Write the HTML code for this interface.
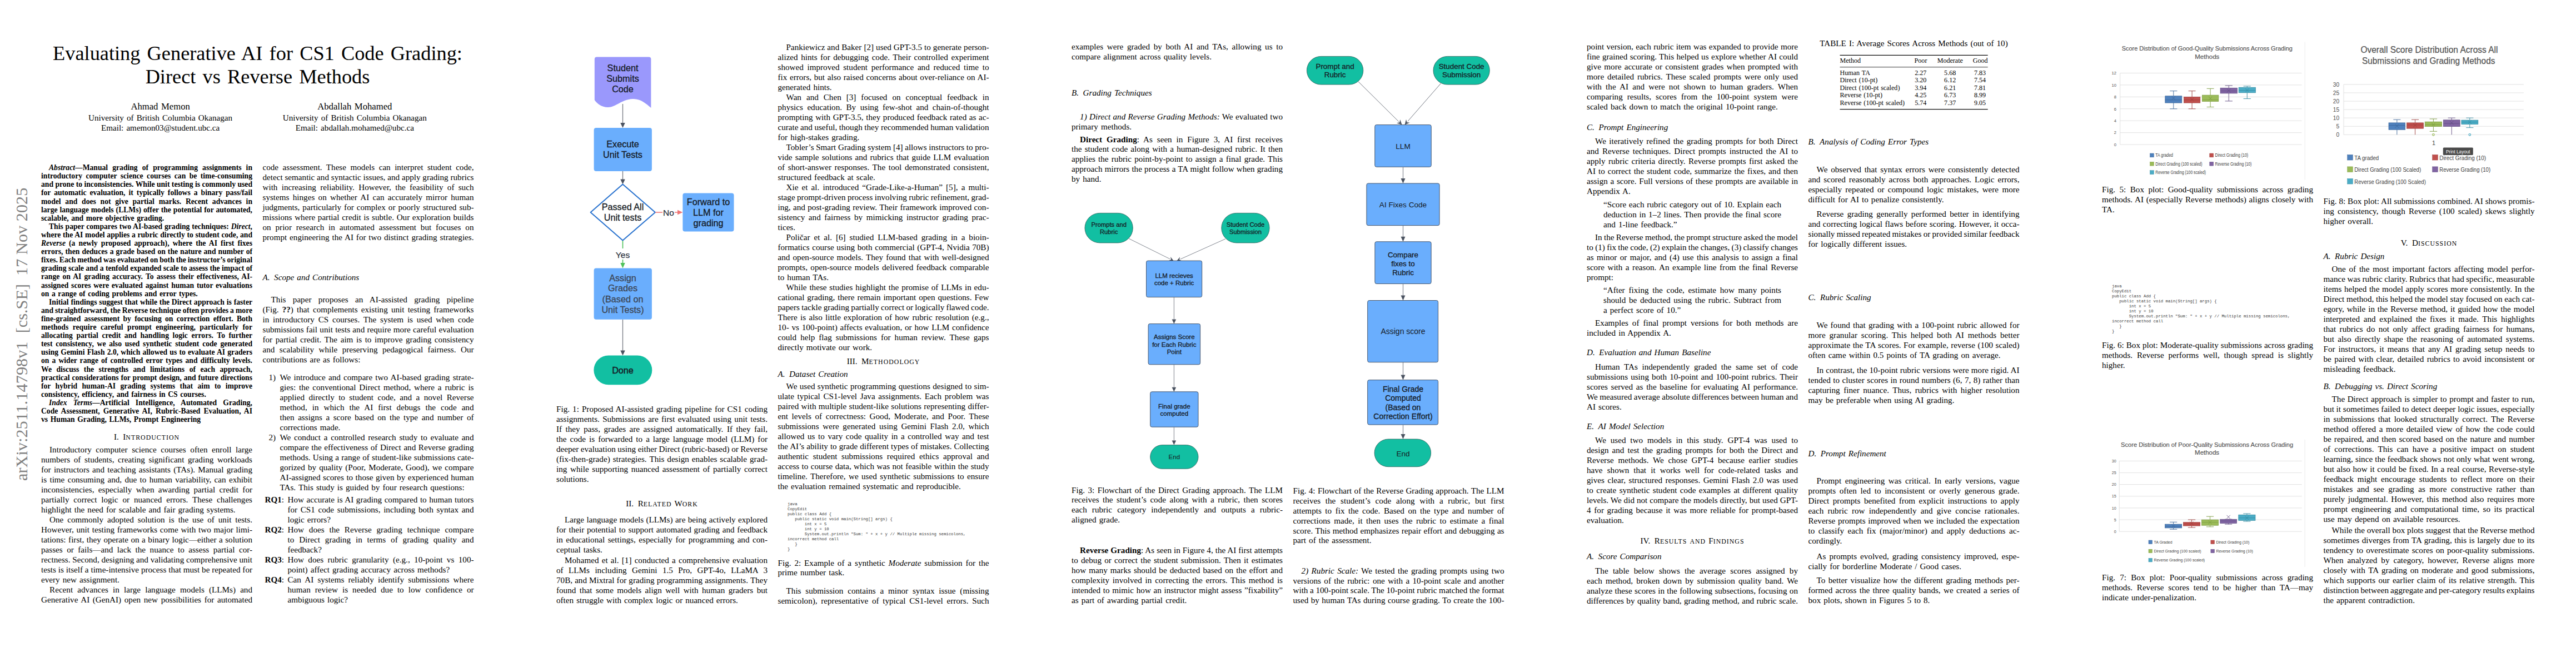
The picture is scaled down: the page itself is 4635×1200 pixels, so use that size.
<!DOCTYPE html>
<html><head><meta charset="utf-8"><style>
html,body{margin:0;padding:0;background:#fff;}
body{width:4635px;height:1200px;position:relative;overflow:hidden;}
.sr{position:absolute;font-family:"Liberation Serif",serif;color:#000;white-space:nowrap;word-spacing:0.085em;}
.bd{font-weight:bold;}
.j{text-align:justify;text-align-last:justify;white-space:normal;}
.j{word-spacing:0;}
.ctr{text-align:center;}
.h1{text-align:center;}
.sc{font-size:0.78em;letter-spacing:1.05px;}
.h2{font-style:italic;}
.stamp{font-size:30.3px;line-height:34px;color:#808080;transform-origin:0 0;transform:rotate(-90deg);left:22px;top:864.5px;word-spacing:0;}
.ss{position:absolute;font-family:"Liberation Sans",sans-serif;white-space:nowrap;text-align:center;}
.mono{position:absolute;font-family:"Liberation Mono",monospace;white-space:pre;color:#333;}
</style></head><body>
<div id="L0" class="sr bd j" style="font-size:13.65px;line-height:15.1px;top:294.14px;left:74.00px;width:380.00px;text-indent:14.00px;"><i>Abstract</i>—Manual grading of programming assignments in</div>
<div id="L1" class="sr bd j" style="font-size:13.65px;line-height:15.1px;top:309.24px;left:74.00px;width:380.00px;">introductory computer science courses can be time-consuming</div>
<div id="L2" class="sr bd j" style="font-size:13.65px;line-height:15.1px;top:324.34px;left:74.00px;width:380.00px;word-spacing:-0.06px;">and prone to inconsistencies. While unit testing is commonly used</div>
<div id="L3" class="sr bd j" style="font-size:13.65px;line-height:15.1px;top:339.44px;left:74.00px;width:380.00px;">for automatic evaluation, it typically follows a binary pass/fail</div>
<div id="L4" class="sr bd j" style="font-size:13.65px;line-height:15.1px;top:354.54px;left:74.00px;width:380.00px;">model and does not give partial marks. Recent advances in</div>
<div id="L5" class="sr bd j" style="font-size:13.65px;line-height:15.1px;top:369.64px;left:74.00px;width:380.00px;">large language models (LLMs) offer the potential for automated,</div>
<div id="L6" class="sr bd" style="font-size:13.65px;line-height:15.1px;top:384.74px;left:74.00px;width:380.00px;">scalable, and more objective grading.</div>
<div id="L7" class="sr bd j" style="font-size:13.65px;line-height:15.1px;top:399.84px;left:74.00px;width:380.00px;text-indent:14.00px;">This paper compares two AI-based grading techniques: <i>Direct</i>,</div>
<div id="L8" class="sr bd j" style="font-size:13.65px;line-height:15.1px;top:414.94px;left:74.00px;width:380.00px;">where the AI model applies a rubric directly to student code, and</div>
<div id="L9" class="sr bd j" style="font-size:13.65px;line-height:15.1px;top:430.04px;left:74.00px;width:380.00px;"><i>Reverse</i> (a newly proposed approach), where the AI first fixes</div>
<div id="L10" class="sr bd j" style="font-size:13.65px;line-height:15.1px;top:445.14px;left:74.00px;width:380.00px;">errors, then deduces a grade based on the nature and number of</div>
<div id="L11" class="sr bd j" style="font-size:13.65px;line-height:15.1px;top:460.24px;left:74.00px;width:380.00px;word-spacing:-0.59px;">fixes. Each method was evaluated on both the instructor’s original</div>
<div id="L12" class="sr bd j" style="font-size:13.65px;line-height:15.1px;top:475.34px;left:74.00px;width:380.00px;word-spacing:-0.06px;">grading scale and a tenfold expanded scale to assess the impact of</div>
<div id="L13" class="sr bd j" style="font-size:13.65px;line-height:15.1px;top:490.44px;left:74.00px;width:380.00px;">range on AI grading accuracy. To assess their effectiveness, AI-</div>
<div id="L14" class="sr bd j" style="font-size:13.65px;line-height:15.1px;top:505.54px;left:74.00px;width:380.00px;">assigned scores were evaluated against human tutor evaluations</div>
<div id="L15" class="sr bd" style="font-size:13.65px;line-height:15.1px;top:520.64px;left:74.00px;width:380.00px;">on a range of coding problems and error types.</div>
<div id="L16" class="sr bd j" style="font-size:13.65px;line-height:15.1px;top:535.74px;left:74.00px;width:380.00px;text-indent:14.00px;">Initial findings suggest that while the Direct approach is faster</div>
<div id="L17" class="sr bd j" style="font-size:13.65px;line-height:15.1px;top:550.84px;left:74.00px;width:380.00px;word-spacing:-0.49px;">and straightforward, the Reverse technique often provides a more</div>
<div id="L18" class="sr bd j" style="font-size:13.65px;line-height:15.1px;top:565.94px;left:74.00px;width:380.00px;">fine-grained assessment by focusing on correction effort. Both</div>
<div id="L19" class="sr bd j" style="font-size:13.65px;line-height:15.1px;top:581.04px;left:74.00px;width:380.00px;">methods require careful prompt engineering, particularly for</div>
<div id="L20" class="sr bd j" style="font-size:13.65px;line-height:15.1px;top:596.14px;left:74.00px;width:380.00px;">allocating partial credit and handling logic errors. To further</div>
<div id="L21" class="sr bd j" style="font-size:13.65px;line-height:15.1px;top:611.24px;left:74.00px;width:380.00px;">test consistency, we also used synthetic student code generated</div>
<div id="L22" class="sr bd j" style="font-size:13.65px;line-height:15.1px;top:626.34px;left:74.00px;width:380.00px;">using Gemini Flash 2.0, which allowed us to evaluate AI graders</div>
<div id="L23" class="sr bd j" style="font-size:13.65px;line-height:15.1px;top:641.44px;left:74.00px;width:380.00px;">on a wider range of controlled error types and difficulty levels.</div>
<div id="L24" class="sr bd j" style="font-size:13.65px;line-height:15.1px;top:656.54px;left:74.00px;width:380.00px;">We discuss the strengths and limitations of each approach,</div>
<div id="L25" class="sr bd j" style="font-size:13.65px;line-height:15.1px;top:671.64px;left:74.00px;width:380.00px;">practical considerations for prompt design, and future directions</div>
<div id="L26" class="sr bd j" style="font-size:13.65px;line-height:15.1px;top:686.74px;left:74.00px;width:380.00px;">for hybrid human-AI grading systems that aim to improve</div>
<div id="L27" class="sr bd" style="font-size:13.65px;line-height:15.1px;top:701.84px;left:74.00px;width:380.00px;">consistency, efficiency, and fairness in CS courses.</div>
<div id="L28" class="sr bd j" style="font-size:13.65px;line-height:15.1px;top:716.94px;left:74.00px;width:380.00px;text-indent:14.00px;"><i>Index Terms</i>—Artificial Intelligence, Automated Grading,</div>
<div id="L29" class="sr bd j" style="font-size:13.65px;line-height:15.1px;top:732.04px;left:74.00px;width:380.00px;">Code Assessment, Generative AI, Rubric-Based Evaluation, AI</div>
<div id="L30" class="sr bd" style="font-size:13.65px;line-height:15.1px;top:747.14px;left:74.00px;width:380.00px;">vs Human Grading, LLMs, Prompt Engineering</div>
<div class="sr h1" style="font-size:15.15px;line-height:18.0px;top:777.29px;left:74.0px;width:380.0px">I.&ensp;I<span class="sc">NTRODUCTION</span></div>
<div id="L32" class="sr j" style="font-size:15.15px;line-height:18.0px;top:799.89px;left:74.00px;width:380.00px;text-indent:15.07px;">Introductory computer science courses often enroll large</div>
<div id="L33" class="sr j" style="font-size:15.15px;line-height:18.0px;top:817.89px;left:74.00px;width:380.00px;">numbers of students, creating significant grading workloads</div>
<div id="L34" class="sr j" style="font-size:15.15px;line-height:18.0px;top:835.89px;left:74.00px;width:380.00px;">for instructors and teaching assistants (TAs). Manual grading</div>
<div id="L35" class="sr j" style="font-size:15.15px;line-height:18.0px;top:853.89px;left:74.00px;width:380.00px;">is time consuming and, due to human variability, can exhibit</div>
<div id="L36" class="sr j" style="font-size:15.15px;line-height:18.0px;top:871.89px;left:74.00px;width:380.00px;">inconsistencies, especially when awarding partial credit for</div>
<div id="L37" class="sr j" style="font-size:15.15px;line-height:18.0px;top:889.89px;left:74.00px;width:380.00px;">partially correct logic or nuanced errors. These challenges</div>
<div id="L38" class="sr" style="font-size:15.15px;line-height:18.0px;top:907.89px;left:74.00px;width:380.00px;">highlight the need for scalable and fair grading systems.</div>
<div id="L39" class="sr j" style="font-size:15.15px;line-height:18.0px;top:925.89px;left:74.00px;width:380.00px;text-indent:15.07px;">One commonly adopted solution is the use of unit tests.</div>
<div id="L40" class="sr j" style="font-size:15.15px;line-height:18.0px;top:943.89px;left:74.00px;width:380.00px;">However, unit testing frameworks come with two major limi-</div>
<div id="L41" class="sr j" style="font-size:15.15px;line-height:18.0px;top:961.89px;left:74.00px;width:380.00px;">tations: first, they operate on a binary logic—either a solution</div>
<div id="L42" class="sr j" style="font-size:15.15px;line-height:18.0px;top:979.89px;left:74.00px;width:380.00px;">passes or fails—and lack the nuance to assess partial cor-</div>
<div id="L43" class="sr j" style="font-size:15.15px;line-height:18.0px;top:997.89px;left:74.00px;width:380.00px;word-spacing:-0.12px;">rectness. Second, designing and validating comprehensive unit</div>
<div id="L44" class="sr j" style="font-size:15.15px;line-height:18.0px;top:1015.89px;left:74.00px;width:380.00px;">tests is itself a time-intensive process that must be repeated for</div>
<div id="L45" class="sr" style="font-size:15.15px;line-height:18.0px;top:1033.89px;left:74.00px;width:380.00px;">every new assignment.</div>
<div id="L46" class="sr j" style="font-size:15.15px;line-height:18.0px;top:1051.89px;left:74.00px;width:380.00px;text-indent:15.07px;">Recent advances in large language models (LLMs) and</div>
<div id="L47" class="sr j" style="font-size:15.15px;line-height:18.0px;top:1069.89px;left:74.00px;width:380.00px;">Generative AI (GenAI) open new possibilities for automated</div>
<div id="L48" class="sr j" style="font-size:15.15px;line-height:18.0px;top:291.99px;left:472.50px;width:380.00px;">code assessment. These models can interpret student code,</div>
<div id="L49" class="sr j" style="font-size:15.15px;line-height:18.0px;top:309.99px;left:472.50px;width:380.00px;">detect semantic and syntactic issues, and apply grading rubrics</div>
<div id="L50" class="sr j" style="font-size:15.15px;line-height:18.0px;top:327.99px;left:472.50px;width:380.00px;">with increasing reliability. However, the feasibility of such</div>
<div id="L51" class="sr j" style="font-size:15.15px;line-height:18.0px;top:345.99px;left:472.50px;width:380.00px;">systems hinges on whether AI can accurately mirror human</div>
<div id="L52" class="sr j" style="font-size:15.15px;line-height:18.0px;top:363.99px;left:472.50px;width:380.00px;">judgments, particularly for complex or poorly structured sub-</div>
<div id="L53" class="sr j" style="font-size:15.15px;line-height:18.0px;top:381.99px;left:472.50px;width:380.00px;">missions where partial credit is subtle. Our exploration builds</div>
<div id="L54" class="sr j" style="font-size:15.15px;line-height:18.0px;top:399.99px;left:472.50px;width:380.00px;">on prior research in automated assessment but focuses on</div>
<div id="L55" class="sr j" style="font-size:15.15px;line-height:18.0px;top:417.99px;left:472.50px;width:380.00px;">prompt engineering the AI for two distinct grading strategies.</div>
<div class="sr h2" style="font-size:15.15px;line-height:18.0px;top:490.09px;left:472.5px;width:380.0px">A.&ensp;Scope and Contributions</div>
<div id="L57" class="sr j" style="font-size:15.15px;line-height:18.0px;top:529.69px;left:472.50px;width:380.00px;text-indent:15.07px;">This paper proposes an AI-assisted grading pipeline</div>
<div id="L58" class="sr j" style="font-size:15.15px;line-height:18.0px;top:547.69px;left:472.50px;width:380.00px;">(Fig. <b>??</b>) that complements existing unit testing frameworks</div>
<div id="L59" class="sr j" style="font-size:15.15px;line-height:18.0px;top:565.69px;left:472.50px;width:380.00px;">in introductory CS courses. The system is used when code</div>
<div id="L60" class="sr j" style="font-size:15.15px;line-height:18.0px;top:583.69px;left:472.50px;width:380.00px;">submissions fail unit tests and require more careful evaluation</div>
<div id="L61" class="sr j" style="font-size:15.15px;line-height:18.0px;top:601.69px;left:472.50px;width:380.00px;">for partial credit. The aim is to improve grading consistency</div>
<div id="L62" class="sr j" style="font-size:15.15px;line-height:18.0px;top:619.69px;left:472.50px;width:380.00px;">and scalability while preserving pedagogical fairness. Our</div>
<div id="L63" class="sr" style="font-size:15.15px;line-height:18.0px;top:637.69px;left:472.50px;width:380.00px;">contributions are as follows:</div>
<div class="sr" style="font-size:15.15px;line-height:18.0px;top:669.69px;left:483.5px;width:80px">1)</div>
<div id="L65" class="sr j" style="font-size:15.15px;line-height:18.0px;top:669.69px;left:503.50px;width:349.00px;">We introduce and compare two AI-based grading strate-</div>
<div id="L66" class="sr j" style="font-size:15.15px;line-height:18.0px;top:687.69px;left:503.50px;width:349.00px;">gies: the conventional Direct method, where a rubric is</div>
<div id="L67" class="sr j" style="font-size:15.15px;line-height:18.0px;top:705.69px;left:503.50px;width:349.00px;">applied directly to student code, and a novel Reverse</div>
<div id="L68" class="sr j" style="font-size:15.15px;line-height:18.0px;top:723.69px;left:503.50px;width:349.00px;">method, in which the AI first debugs the code and</div>
<div id="L69" class="sr j" style="font-size:15.15px;line-height:18.0px;top:741.69px;left:503.50px;width:349.00px;">then assigns a score based on the type and number of</div>
<div id="L70" class="sr" style="font-size:15.15px;line-height:18.0px;top:759.69px;left:503.50px;width:349.00px;">corrections made.</div>
<div class="sr" style="font-size:15.15px;line-height:18.0px;top:777.69px;left:483.5px;width:80px">2)</div>
<div id="L72" class="sr j" style="font-size:15.15px;line-height:18.0px;top:777.69px;left:503.50px;width:349.00px;">We conduct a controlled research study to evaluate and</div>
<div id="L73" class="sr j" style="font-size:15.15px;line-height:18.0px;top:795.69px;left:503.50px;width:349.00px;">compare the effectiveness of Direct and Reverse grading</div>
<div id="L74" class="sr j" style="font-size:15.15px;line-height:18.0px;top:813.69px;left:503.50px;width:349.00px;">methods. Using a range of student-like submissions cate-</div>
<div id="L75" class="sr j" style="font-size:15.15px;line-height:18.0px;top:831.69px;left:503.50px;width:349.00px;">gorized by quality (Poor, Moderate, Good), we compare</div>
<div id="L76" class="sr j" style="font-size:15.15px;line-height:18.0px;top:849.69px;left:503.50px;width:349.00px;">AI-assigned scores to those given by experienced human</div>
<div id="L77" class="sr" style="font-size:15.15px;line-height:18.0px;top:867.69px;left:503.50px;width:349.00px;">TAs. This study is guided by four research questions:</div>
<div class="sr" style="font-size:15.15px;line-height:18.0px;top:890.19px;left:476.5px;width:80px"><b>RQ1</b>:</div>
<div id="L79" class="sr j" style="font-size:15.15px;line-height:18.0px;top:890.19px;left:517.50px;width:335.00px;">How accurate is AI grading compared to human tutors</div>
<div id="L80" class="sr j" style="font-size:15.15px;line-height:18.0px;top:908.19px;left:517.50px;width:335.00px;">for CS1 code submissions, including both syntax and</div>
<div id="L81" class="sr" style="font-size:15.15px;line-height:18.0px;top:926.19px;left:517.50px;width:335.00px;">logic errors?</div>
<div class="sr" style="font-size:15.15px;line-height:18.0px;top:944.19px;left:476.5px;width:80px"><b>RQ2</b>:</div>
<div id="L83" class="sr j" style="font-size:15.15px;line-height:18.0px;top:944.19px;left:517.50px;width:335.00px;">How does the Reverse grading technique compare</div>
<div id="L84" class="sr j" style="font-size:15.15px;line-height:18.0px;top:962.19px;left:517.50px;width:335.00px;">to Direct grading in terms of grading quality and</div>
<div id="L85" class="sr" style="font-size:15.15px;line-height:18.0px;top:980.19px;left:517.50px;width:335.00px;">feedback?</div>
<div class="sr" style="font-size:15.15px;line-height:18.0px;top:998.19px;left:476.5px;width:80px"><b>RQ3</b>:</div>
<div id="L87" class="sr j" style="font-size:15.15px;line-height:18.0px;top:998.19px;left:517.50px;width:335.00px;">How does rubric granularity (e.g., 10-point vs 100-</div>
<div id="L88" class="sr" style="font-size:15.15px;line-height:18.0px;top:1016.19px;left:517.50px;width:335.00px;">point) affect grading accuracy across methods?</div>
<div class="sr" style="font-size:15.15px;line-height:18.0px;top:1034.19px;left:476.5px;width:80px"><b>RQ4</b>:</div>
<div id="L90" class="sr j" style="font-size:15.15px;line-height:18.0px;top:1034.19px;left:517.50px;width:335.00px;">Can AI systems reliably identify submissions where</div>
<div id="L91" class="sr j" style="font-size:15.15px;line-height:18.0px;top:1052.19px;left:517.50px;width:335.00px;">human review is needed due to low confidence or</div>
<div id="L92" class="sr" style="font-size:15.15px;line-height:18.0px;top:1070.19px;left:517.50px;width:335.00px;">ambiguous logic?</div>
<div id="L93" class="sr j" style="font-size:15.15px;line-height:18.0px;top:726.59px;left:1001.00px;width:380.00px;">Fig. 1: Proposed AI-assisted grading pipeline for CS1 coding</div>
<div id="L94" class="sr j" style="font-size:15.15px;line-height:18.0px;top:744.59px;left:1001.00px;width:380.00px;">assignments. Submissions are first evaluated using unit tests.</div>
<div id="L95" class="sr j" style="font-size:15.15px;line-height:18.0px;top:762.59px;left:1001.00px;width:380.00px;">If they pass, grades are assigned automatically. If they fail,</div>
<div id="L96" class="sr j" style="font-size:15.15px;line-height:18.0px;top:780.59px;left:1001.00px;width:380.00px;">the code is forwarded to a large language model (LLM) for</div>
<div id="L97" class="sr j" style="font-size:15.15px;line-height:18.0px;top:798.59px;left:1001.00px;width:380.00px;word-spacing:-0.39px;">deeper evaluation using either Direct (rubric-based) or Reverse</div>
<div id="L98" class="sr j" style="font-size:15.15px;line-height:18.0px;top:816.59px;left:1001.00px;width:380.00px;">(fix-then-grade) strategies. This design enables scalable grad-</div>
<div id="L99" class="sr j" style="font-size:15.15px;line-height:18.0px;top:834.59px;left:1001.00px;width:380.00px;">ing while supporting nuanced assessment of partially correct</div>
<div id="L100" class="sr" style="font-size:15.15px;line-height:18.0px;top:852.59px;left:1001.00px;width:380.00px;">solutions.</div>
<div class="sr h1" style="font-size:15.15px;line-height:18.0px;top:896.69px;left:1001.0px;width:380.0px">II.&ensp;R<span class="sc">ELATED</span> W<span class="sc">ORK</span></div>
<div id="L102" class="sr j" style="font-size:15.15px;line-height:18.0px;top:926.19px;left:1001.00px;width:380.00px;text-indent:15.07px;">Large language models (LLMs) are being actively explored</div>
<div id="L103" class="sr j" style="font-size:15.15px;line-height:18.0px;top:944.19px;left:1001.00px;width:380.00px;">for their potential to support automated grading and feedback</div>
<div id="L104" class="sr j" style="font-size:15.15px;line-height:18.0px;top:962.19px;left:1001.00px;width:380.00px;">in educational settings, especially for programming and con-</div>
<div id="L105" class="sr" style="font-size:15.15px;line-height:18.0px;top:980.19px;left:1001.00px;width:380.00px;">ceptual tasks.</div>
<div id="L106" class="sr j" style="font-size:15.15px;line-height:18.0px;top:999.09px;left:1001.00px;width:380.00px;text-indent:15.07px;">Mohamed et al. [1] conducted a comprehensive evaluation</div>
<div id="L107" class="sr j" style="font-size:15.15px;line-height:18.0px;top:1017.09px;left:1001.00px;width:380.00px;">of LLMs including Gemini 1.5 Pro, GPT-4o, LLaMA 3</div>
<div id="L108" class="sr j" style="font-size:15.15px;line-height:18.0px;top:1035.09px;left:1001.00px;width:380.00px;">70B, and Mixtral for grading programming assignments. They</div>
<div id="L109" class="sr j" style="font-size:15.15px;line-height:18.0px;top:1053.09px;left:1001.00px;width:380.00px;">found that some models align well with human graders but</div>
<div id="L110" class="sr" style="font-size:15.15px;line-height:18.0px;top:1071.09px;left:1001.00px;width:380.00px;">often struggle with complex logic or nuanced errors.</div>
<div id="L111" class="sr j" style="font-size:15.15px;line-height:18.0px;top:75.79px;left:1399.50px;width:380.00px;text-indent:15.07px;">Pankiewicz and Baker [2] used GPT-3.5 to generate person-</div>
<div id="L112" class="sr j" style="font-size:15.15px;line-height:18.0px;top:93.79px;left:1399.50px;width:380.00px;">alized hints for debugging code. Their controlled experiment</div>
<div id="L113" class="sr j" style="font-size:15.15px;line-height:18.0px;top:111.79px;left:1399.50px;width:380.00px;">showed improved student performance and reduced time to</div>
<div id="L114" class="sr j" style="font-size:15.15px;line-height:18.0px;top:129.79px;left:1399.50px;width:380.00px;">fix errors, but also raised concerns about over-reliance on AI-</div>
<div id="L115" class="sr" style="font-size:15.15px;line-height:18.0px;top:147.79px;left:1399.50px;width:380.00px;">generated hints.</div>
<div id="L116" class="sr j" style="font-size:15.15px;line-height:18.0px;top:165.79px;left:1399.50px;width:380.00px;text-indent:15.07px;">Wan and Chen [3] focused on conceptual feedback in</div>
<div id="L117" class="sr j" style="font-size:15.15px;line-height:18.0px;top:183.79px;left:1399.50px;width:380.00px;">physics education. By using few-shot and chain-of-thought</div>
<div id="L118" class="sr j" style="font-size:15.15px;line-height:18.0px;top:201.79px;left:1399.50px;width:380.00px;">prompting with GPT-3.5, they produced feedback rated as ac-</div>
<div id="L119" class="sr j" style="font-size:15.15px;line-height:18.0px;top:219.79px;left:1399.50px;width:380.00px;word-spacing:-0.34px;">curate and useful, though they recommended human validation</div>
<div id="L120" class="sr" style="font-size:15.15px;line-height:18.0px;top:237.79px;left:1399.50px;width:380.00px;">for high-stakes grading.</div>
<div id="L121" class="sr j" style="font-size:15.15px;line-height:18.0px;top:255.79px;left:1399.50px;width:380.00px;text-indent:15.07px;word-spacing:-0.23px;">Tobler’s Smart Grading system [4] allows instructors to pro-</div>
<div id="L122" class="sr j" style="font-size:15.15px;line-height:18.0px;top:273.79px;left:1399.50px;width:380.00px;">vide sample solutions and rubrics that guide LLM evaluation</div>
<div id="L123" class="sr j" style="font-size:15.15px;line-height:18.0px;top:291.79px;left:1399.50px;width:380.00px;">of short-answer responses. The tool demonstrated consistent,</div>
<div id="L124" class="sr" style="font-size:15.15px;line-height:18.0px;top:309.79px;left:1399.50px;width:380.00px;">structured feedback at scale.</div>
<div id="L125" class="sr j" style="font-size:15.15px;line-height:18.0px;top:327.79px;left:1399.50px;width:380.00px;text-indent:15.07px;">Xie et al. introduced “Grade-Like-a-Human” [5], a multi-</div>
<div id="L126" class="sr j" style="font-size:15.15px;line-height:18.0px;top:345.79px;left:1399.50px;width:380.00px;word-spacing:-0.46px;">stage prompt-driven process involving rubric refinement, grad-</div>
<div id="L127" class="sr j" style="font-size:15.15px;line-height:18.0px;top:363.79px;left:1399.50px;width:380.00px;">ing, and post-grading review. Their framework improved con-</div>
<div id="L128" class="sr j" style="font-size:15.15px;line-height:18.0px;top:381.79px;left:1399.50px;width:380.00px;">sistency and fairness by mimicking instructor grading prac-</div>
<div id="L129" class="sr" style="font-size:15.15px;line-height:18.0px;top:399.79px;left:1399.50px;width:380.00px;">tices.</div>
<div id="L130" class="sr j" style="font-size:15.15px;line-height:18.0px;top:417.79px;left:1399.50px;width:380.00px;text-indent:15.07px;">Poličar et al. [6] studied LLM-based grading in a bioin-</div>
<div id="L131" class="sr j" style="font-size:15.15px;line-height:18.0px;top:435.79px;left:1399.50px;width:380.00px;">formatics course using both commercial (GPT-4, Nvidia 70B)</div>
<div id="L132" class="sr j" style="font-size:15.15px;line-height:18.0px;top:453.79px;left:1399.50px;width:380.00px;">and open-source models. They found that with well-designed</div>
<div id="L133" class="sr j" style="font-size:15.15px;line-height:18.0px;top:471.79px;left:1399.50px;width:380.00px;">prompts, open-source models delivered feedback comparable</div>
<div id="L134" class="sr" style="font-size:15.15px;line-height:18.0px;top:489.79px;left:1399.50px;width:380.00px;">to human TAs.</div>
<div id="L135" class="sr j" style="font-size:15.15px;line-height:18.0px;top:507.79px;left:1399.50px;width:380.00px;text-indent:15.07px;">While these studies highlight the promise of LLMs in edu-</div>
<div id="L136" class="sr j" style="font-size:15.15px;line-height:18.0px;top:525.79px;left:1399.50px;width:380.00px;">cational grading, there remain important open questions. Few</div>
<div id="L137" class="sr j" style="font-size:15.15px;line-height:18.0px;top:543.79px;left:1399.50px;width:380.00px;word-spacing:-0.55px;">papers tackle grading partially correct or logically flawed code.</div>
<div id="L138" class="sr j" style="font-size:15.15px;line-height:18.0px;top:561.79px;left:1399.50px;width:380.00px;">There is also little exploration of how rubric resolution (e.g.,</div>
<div id="L139" class="sr j" style="font-size:15.15px;line-height:18.0px;top:579.79px;left:1399.50px;width:380.00px;">10- vs 100-point) affects evaluation, or how LLM confidence</div>
<div id="L140" class="sr j" style="font-size:15.15px;line-height:18.0px;top:597.79px;left:1399.50px;width:380.00px;">could help flag submissions for human review. These gaps</div>
<div id="L141" class="sr" style="font-size:15.15px;line-height:18.0px;top:615.79px;left:1399.50px;width:380.00px;">directly motivate our work.</div>
<div class="sr h1" style="font-size:15.15px;line-height:18.0px;top:641.29px;left:1399.5px;width:380.0px">III.&ensp;M<span class="sc">ETHODOLOGY</span></div>
<div class="sr h2" style="font-size:15.15px;line-height:18.0px;top:664.09px;left:1399.5px;width:380.0px">A.&ensp;Dataset Creation</div>
<div id="L144" class="sr j" style="font-size:15.15px;line-height:18.0px;top:685.99px;left:1399.50px;width:380.00px;text-indent:15.07px;">We used synthetic programming questions designed to sim-</div>
<div id="L145" class="sr j" style="font-size:15.15px;line-height:18.0px;top:703.99px;left:1399.50px;width:380.00px;">ulate typical CS1-level Java assignments. Each problem was</div>
<div id="L146" class="sr j" style="font-size:15.15px;line-height:18.0px;top:721.99px;left:1399.50px;width:380.00px;">paired with multiple student-like solutions representing differ-</div>
<div id="L147" class="sr j" style="font-size:15.15px;line-height:18.0px;top:739.99px;left:1399.50px;width:380.00px;">ent levels of correctness: Good, Moderate, and Poor. These</div>
<div id="L148" class="sr j" style="font-size:15.15px;line-height:18.0px;top:757.99px;left:1399.50px;width:380.00px;">submissions were generated using Gemini Flash 2.0, which</div>
<div id="L149" class="sr j" style="font-size:15.15px;line-height:18.0px;top:775.99px;left:1399.50px;width:380.00px;">allowed us to vary code quality in a controlled way and test</div>
<div id="L150" class="sr j" style="font-size:15.15px;line-height:18.0px;top:793.99px;left:1399.50px;width:380.00px;">the AI’s ability to grade different types of mistakes. Collecting</div>
<div id="L151" class="sr j" style="font-size:15.15px;line-height:18.0px;top:811.99px;left:1399.50px;width:380.00px;">authentic student submissions required ethics approval and</div>
<div id="L152" class="sr j" style="font-size:15.15px;line-height:18.0px;top:829.99px;left:1399.50px;width:380.00px;">access to course data, which was not feasible within the study</div>
<div id="L153" class="sr j" style="font-size:15.15px;line-height:18.0px;top:847.99px;left:1399.50px;width:380.00px;">timeline. Therefore, we used synthetic submissions to ensure</div>
<div id="L154" class="sr" style="font-size:15.15px;line-height:18.0px;top:865.99px;left:1399.50px;width:380.00px;">the evaluation remained systematic and reproducible.</div>
<div id="L155" class="sr j" style="font-size:15.15px;line-height:17.6px;top:1003.89px;left:1399.50px;width:380.00px;">Fig. 2: Example of a synthetic <i>Moderate</i> submission for the</div>
<div id="L156" class="sr" style="font-size:15.15px;line-height:17.6px;top:1021.49px;left:1399.50px;width:380.00px;">prime number task.</div>
<div id="L157" class="sr j" style="font-size:15.15px;line-height:18.0px;top:1054.09px;left:1399.50px;width:380.00px;text-indent:15.07px;">This submission contains a minor syntax issue (missing</div>
<div id="L158" class="sr j" style="font-size:15.15px;line-height:18.0px;top:1072.09px;left:1399.50px;width:380.00px;">semicolon), representative of typical CS1-level errors. Such</div>
<div id="L159" class="sr j" style="font-size:15.15px;line-height:18.0px;top:75.49px;left:1928.00px;width:380.00px;">examples were graded by both AI and TAs, allowing us to</div>
<div id="L160" class="sr" style="font-size:15.15px;line-height:18.0px;top:93.49px;left:1928.00px;width:380.00px;">compare alignment across quality levels.</div>
<div class="sr h2" style="font-size:15.15px;line-height:18.0px;top:157.99px;left:1928.0px;width:380.0px">B.&ensp;Grading Techniques</div>
<div id="L162" class="sr j" style="font-size:15.15px;line-height:18.0px;top:201.19px;left:1928.00px;width:380.00px;text-indent:15.07px;"><i>1) Direct and Reverse Grading Methods:</i> We evaluated two</div>
<div id="L163" class="sr" style="font-size:15.15px;line-height:18.0px;top:219.19px;left:1928.00px;width:380.00px;">primary methods.</div>
<div id="L164" class="sr j" style="font-size:15.15px;line-height:17.75px;top:241.61px;left:1928.00px;width:380.00px;text-indent:15.07px;"><b>Direct Grading</b>: As seen in Figure 3, AI first receives</div>
<div id="L165" class="sr j" style="font-size:15.15px;line-height:17.75px;top:259.36px;left:1928.00px;width:380.00px;">the student code along with a human-designed rubric. It then</div>
<div id="L166" class="sr j" style="font-size:15.15px;line-height:17.75px;top:277.11px;left:1928.00px;width:380.00px;">applies the rubric point-by-point to assign a final grade. This</div>
<div id="L167" class="sr j" style="font-size:15.15px;line-height:17.75px;top:294.86px;left:1928.00px;width:380.00px;">approach mirrors the process a TA might follow when grading</div>
<div id="L168" class="sr" style="font-size:15.15px;line-height:17.75px;top:312.61px;left:1928.00px;width:380.00px;">by hand.</div>
<div id="L169" class="sr j" style="font-size:15.15px;line-height:17.9px;top:872.54px;left:1928.00px;width:380.00px;">Fig. 3: Flowchart of the Direct Grading approach. The LLM</div>
<div id="L170" class="sr j" style="font-size:15.15px;line-height:17.9px;top:890.44px;left:1928.00px;width:380.00px;">receives the student’s code along with a rubric, then scores</div>
<div id="L171" class="sr j" style="font-size:15.15px;line-height:17.9px;top:908.34px;left:1928.00px;width:380.00px;">each rubric category independently and outputs a rubric-</div>
<div id="L172" class="sr" style="font-size:15.15px;line-height:17.9px;top:926.24px;left:1928.00px;width:380.00px;">aligned grade.</div>
<div id="L173" class="sr j" style="font-size:15.15px;line-height:17.85px;top:981.36px;left:1928.00px;width:380.00px;text-indent:15.07px;"><b>Reverse Grading</b>: As seen in Figure 4, the AI first attempts</div>
<div id="L174" class="sr j" style="font-size:15.15px;line-height:17.85px;top:999.21px;left:1928.00px;width:380.00px;">to debug or correct the student submission. Then it estimates</div>
<div id="L175" class="sr j" style="font-size:15.15px;line-height:17.85px;top:1017.06px;left:1928.00px;width:380.00px;">how many marks should be deducted based on the effort and</div>
<div id="L176" class="sr j" style="font-size:15.15px;line-height:17.85px;top:1034.91px;left:1928.00px;width:380.00px;">complexity involved in correcting the errors. This method is</div>
<div id="L177" class="sr j" style="font-size:15.15px;line-height:17.85px;top:1052.76px;left:1928.00px;width:380.00px;">intended to mimic how an instructor might assess ”fixability”</div>
<div id="L178" class="sr" style="font-size:15.15px;line-height:17.85px;top:1070.61px;left:1928.00px;width:380.00px;">as part of awarding partial credit.</div>
<div id="L179" class="sr j" style="font-size:15.15px;line-height:17.8px;top:874.39px;left:2326.50px;width:380.00px;">Fig. 4: Flowchart of the Reverse Grading approach. The LLM</div>
<div id="L180" class="sr j" style="font-size:15.15px;line-height:17.8px;top:892.19px;left:2326.50px;width:380.00px;">receives the student’s code along with a rubric, but first</div>
<div id="L181" class="sr j" style="font-size:15.15px;line-height:17.8px;top:909.99px;left:2326.50px;width:380.00px;">attempts to fix the code. Based on the type and number of</div>
<div id="L182" class="sr j" style="font-size:15.15px;line-height:17.8px;top:927.79px;left:2326.50px;width:380.00px;">corrections made, it then uses the rubric to estimate a final</div>
<div id="L183" class="sr j" style="font-size:15.15px;line-height:17.8px;top:945.59px;left:2326.50px;width:380.00px;">score. This method emphasizes repair effort and debugging as</div>
<div id="L184" class="sr" style="font-size:15.15px;line-height:17.8px;top:963.39px;left:2326.50px;width:380.00px;">part of the assessment.</div>
<div id="L185" class="sr j" style="font-size:15.15px;line-height:17.9px;top:1017.64px;left:2326.50px;width:380.00px;text-indent:15.07px;"><i>2) Rubric Scale:</i> We tested the grading prompts using two</div>
<div id="L186" class="sr j" style="font-size:15.15px;line-height:17.9px;top:1035.54px;left:2326.50px;width:380.00px;">versions of the rubric: one with a 10-point scale and another</div>
<div id="L187" class="sr j" style="font-size:15.15px;line-height:17.9px;top:1053.44px;left:2326.50px;width:380.00px;word-spacing:-0.23px;">with a 100-point scale. The 10-point rubric matched the format</div>
<div id="L188" class="sr j" style="font-size:15.15px;line-height:17.9px;top:1071.34px;left:2326.50px;width:380.00px;">used by human TAs during course grading. To create the 100-</div>
<div id="L189" class="sr j" style="font-size:15.15px;line-height:18.0px;top:75.49px;left:2855.00px;width:380.00px;">point version, each rubric item was expanded to provide more</div>
<div id="L190" class="sr j" style="font-size:15.15px;line-height:18.0px;top:93.49px;left:2855.00px;width:380.00px;">fine grained scoring. This helped us explore whether AI could</div>
<div id="L191" class="sr j" style="font-size:15.15px;line-height:18.0px;top:111.49px;left:2855.00px;width:380.00px;">give more accurate or consistent grades when prompted with</div>
<div id="L192" class="sr j" style="font-size:15.15px;line-height:18.0px;top:129.49px;left:2855.00px;width:380.00px;">more detailed rubrics. These scaled prompts were only used</div>
<div id="L193" class="sr j" style="font-size:15.15px;line-height:18.0px;top:147.49px;left:2855.00px;width:380.00px;">with the AI and were not shown to human graders. When</div>
<div id="L194" class="sr j" style="font-size:15.15px;line-height:18.0px;top:165.49px;left:2855.00px;width:380.00px;">comparing results, scores from the 100-point system were</div>
<div id="L195" class="sr" style="font-size:15.15px;line-height:18.0px;top:183.49px;left:2855.00px;width:380.00px;">scaled back down to match the original 10-point range.</div>
<div class="sr h2" style="font-size:15.15px;line-height:18.0px;top:219.69px;left:2855.0px;width:380.0px">C.&ensp;Prompt Engineering</div>
<div id="L197" class="sr j" style="font-size:15.15px;line-height:18.0px;top:244.89px;left:2855.00px;width:380.00px;text-indent:15.07px;">We iteratively refined the grading prompts for both Direct</div>
<div id="L198" class="sr j" style="font-size:15.15px;line-height:18.0px;top:262.89px;left:2855.00px;width:380.00px;">and Reverse techniques. Direct prompts instructed the AI to</div>
<div id="L199" class="sr j" style="font-size:15.15px;line-height:18.0px;top:280.89px;left:2855.00px;width:380.00px;">apply rubric criteria directly. Reverse prompts first asked the</div>
<div id="L200" class="sr j" style="font-size:15.15px;line-height:18.0px;top:298.89px;left:2855.00px;width:380.00px;">AI to correct the student code, summarize the fixes, and then</div>
<div id="L201" class="sr j" style="font-size:15.15px;line-height:18.0px;top:316.89px;left:2855.00px;width:380.00px;">assign a score. Full versions of these prompts are available in</div>
<div id="L202" class="sr" style="font-size:15.15px;line-height:18.0px;top:334.89px;left:2855.00px;width:380.00px;">Appendix A.</div>
<div id="L203" class="sr j" style="font-size:15.15px;line-height:18.0px;top:359.09px;left:2885.00px;width:320.00px;">“Score each rubric category out of 10. Explain each</div>
<div id="L204" class="sr j" style="font-size:15.15px;line-height:18.0px;top:377.09px;left:2885.00px;width:320.00px;">deduction in 1–2 lines. Then provide the final score</div>
<div id="L205" class="sr" style="font-size:15.15px;line-height:18.0px;top:395.09px;left:2885.00px;width:320.00px;">and 1-line feedback.”</div>
<div id="L206" class="sr j" style="font-size:15.15px;line-height:18.0px;top:417.69px;left:2855.00px;width:380.00px;text-indent:15.07px;word-spacing:-0.54px;">In the Reverse method, the prompt structure asked the model</div>
<div id="L207" class="sr j" style="font-size:15.15px;line-height:18.0px;top:435.69px;left:2855.00px;width:380.00px;word-spacing:-0.48px;">to (1) fix the code, (2) explain the changes, (3) classify changes</div>
<div id="L208" class="sr j" style="font-size:15.15px;line-height:18.0px;top:453.69px;left:2855.00px;width:380.00px;">as minor or major, and (4) use this analysis to assign a final</div>
<div id="L209" class="sr j" style="font-size:15.15px;line-height:18.0px;top:471.69px;left:2855.00px;width:380.00px;">score with a reason. An example line from the final Reverse</div>
<div id="L210" class="sr" style="font-size:15.15px;line-height:18.0px;top:489.69px;left:2855.00px;width:380.00px;">prompt:</div>
<div id="L211" class="sr j" style="font-size:15.15px;line-height:18.0px;top:512.89px;left:2885.00px;width:320.00px;">“After fixing the code, estimate how many points</div>
<div id="L212" class="sr j" style="font-size:15.15px;line-height:18.0px;top:530.89px;left:2885.00px;width:320.00px;">should be deducted using the rubric. Subtract from</div>
<div id="L213" class="sr" style="font-size:15.15px;line-height:18.0px;top:548.89px;left:2885.00px;width:320.00px;">a perfect score of 10.”</div>
<div id="L214" class="sr j" style="font-size:15.15px;line-height:18.0px;top:572.49px;left:2855.00px;width:380.00px;text-indent:15.07px;">Examples of final prompt versions for both methods are</div>
<div id="L215" class="sr" style="font-size:15.15px;line-height:18.0px;top:590.49px;left:2855.00px;width:380.00px;">included in Appendix A.</div>
<div class="sr h2" style="font-size:15.15px;line-height:18.0px;top:625.29px;left:2855.0px;width:380.0px">D.&ensp;Evaluation and Human Baseline</div>
<div id="L217" class="sr j" style="font-size:15.15px;line-height:18.0px;top:650.79px;left:2855.00px;width:380.00px;text-indent:15.07px;">Human TAs independently graded the same set of code</div>
<div id="L218" class="sr j" style="font-size:15.15px;line-height:18.0px;top:668.79px;left:2855.00px;width:380.00px;">submissions using both 10-point and 100-point rubrics. Their</div>
<div id="L219" class="sr j" style="font-size:15.15px;line-height:18.0px;top:686.79px;left:2855.00px;width:380.00px;">scores served as the baseline for evaluating AI performance.</div>
<div id="L220" class="sr j" style="font-size:15.15px;line-height:18.0px;top:704.79px;left:2855.00px;width:380.00px;word-spacing:-0.42px;">We measured average absolute differences between human and</div>
<div id="L221" class="sr" style="font-size:15.15px;line-height:18.0px;top:722.79px;left:2855.00px;width:380.00px;">AI scores.</div>
<div class="sr h2" style="font-size:15.15px;line-height:18.0px;top:758.09px;left:2855.0px;width:380.0px">E.&ensp;AI Model Selection</div>
<div id="L223" class="sr j" style="font-size:15.15px;line-height:18.0px;top:782.89px;left:2855.00px;width:380.00px;text-indent:15.07px;">We used two models in this study. GPT-4 was used to</div>
<div id="L224" class="sr j" style="font-size:15.15px;line-height:18.0px;top:800.89px;left:2855.00px;width:380.00px;">design and test the grading prompts for both the Direct and</div>
<div id="L225" class="sr j" style="font-size:15.15px;line-height:18.0px;top:818.89px;left:2855.00px;width:380.00px;">Reverse methods. We chose GPT-4 because earlier studies</div>
<div id="L226" class="sr j" style="font-size:15.15px;line-height:18.0px;top:836.89px;left:2855.00px;width:380.00px;">have shown that it works well for code-related tasks and</div>
<div id="L227" class="sr j" style="font-size:15.15px;line-height:18.0px;top:854.89px;left:2855.00px;width:380.00px;">gives clear, structured responses. Gemini Flash 2.0 was used</div>
<div id="L228" class="sr j" style="font-size:15.15px;line-height:18.0px;top:872.89px;left:2855.00px;width:380.00px;">to create synthetic student code examples at different quality</div>
<div id="L229" class="sr j" style="font-size:15.15px;line-height:18.0px;top:890.89px;left:2855.00px;width:380.00px;">levels. We did not compare the models directly, but used GPT-</div>
<div id="L230" class="sr j" style="font-size:15.15px;line-height:18.0px;top:908.89px;left:2855.00px;width:380.00px;">4 for grading because it was more reliable for prompt-based</div>
<div id="L231" class="sr" style="font-size:15.15px;line-height:18.0px;top:926.89px;left:2855.00px;width:380.00px;">evaluation.</div>
<div class="sr h1" style="font-size:15.15px;line-height:18.0px;top:964.39px;left:2855.0px;width:380.0px">IV.&ensp;R<span class="sc">ESULTS</span> <span class="sc">AND</span> F<span class="sc">INDINGS</span></div>
<div class="sr h2" style="font-size:15.15px;line-height:18.0px;top:992.19px;left:2855.0px;width:380.0px">A.&ensp;Score Comparison</div>
<div id="L234" class="sr j" style="font-size:15.15px;line-height:18.0px;top:1017.69px;left:2855.00px;width:380.00px;text-indent:15.07px;">The table below shows the average scores assigned by</div>
<div id="L235" class="sr j" style="font-size:15.15px;line-height:18.0px;top:1035.69px;left:2855.00px;width:380.00px;">each method, broken down by submission quality band. We</div>
<div id="L236" class="sr j" style="font-size:15.15px;line-height:18.0px;top:1053.69px;left:2855.00px;width:380.00px;">analyze these scores in the following subsections, focusing on</div>
<div id="L237" class="sr j" style="font-size:15.15px;line-height:18.0px;top:1071.69px;left:2855.00px;width:380.00px;">differences by quality band, grading method, and rubric scale.</div>
<div class="sr ctr" style="font-size:15.15px;line-height:18.0px;top:69.49px;left:3253.5px;width:380.0px">TABLE I: Average Scores Across Methods (out of 10)</div>
<div class="sr h2" style="font-size:15.15px;line-height:18.0px;top:245.89px;left:3253.5px;width:380.0px">B.&ensp;Analysis of Coding Error Types</div>
<div id="L240" class="sr j" style="font-size:15.15px;line-height:18.0px;top:295.99px;left:3253.50px;width:380.00px;text-indent:15.07px;">We observed that syntax errors were consistently detected</div>
<div id="L241" class="sr j" style="font-size:15.15px;line-height:18.0px;top:313.99px;left:3253.50px;width:380.00px;">and scored reasonably across both approaches. Logic errors,</div>
<div id="L242" class="sr j" style="font-size:15.15px;line-height:18.0px;top:331.99px;left:3253.50px;width:380.00px;">especially repeated or compound logic mistakes, were more</div>
<div id="L243" class="sr" style="font-size:15.15px;line-height:18.0px;top:349.99px;left:3253.50px;width:380.00px;">difficult for AI to penalize consistently.</div>
<div id="L244" class="sr j" style="font-size:15.15px;line-height:18.0px;top:376.49px;left:3253.50px;width:380.00px;text-indent:15.07px;">Reverse grading generally performed better in identifying</div>
<div id="L245" class="sr j" style="font-size:15.15px;line-height:18.0px;top:394.49px;left:3253.50px;width:380.00px;">and correcting logical flaws before scoring. However, it occa-</div>
<div id="L246" class="sr j" style="font-size:15.15px;line-height:18.0px;top:412.49px;left:3253.50px;width:380.00px;word-spacing:-0.64px;">sionally missed repeated mistakes or provided similar feedback</div>
<div id="L247" class="sr" style="font-size:15.15px;line-height:18.0px;top:430.49px;left:3253.50px;width:380.00px;">for logically different issues.</div>
<div class="sr h2" style="font-size:15.15px;line-height:18.0px;top:526.09px;left:3253.5px;width:380.0px">C.&ensp;Rubric Scaling</div>
<div id="L249" class="sr j" style="font-size:15.15px;line-height:18.0px;top:575.99px;left:3253.50px;width:380.00px;text-indent:15.07px;">We found that grading with a 100-point rubric allowed for</div>
<div id="L250" class="sr j" style="font-size:15.15px;line-height:18.0px;top:593.99px;left:3253.50px;width:380.00px;">more granular scoring. This helped both AI methods better</div>
<div id="L251" class="sr j" style="font-size:15.15px;line-height:18.0px;top:611.99px;left:3253.50px;width:380.00px;">approximate the TA scores. For example, reverse (100 scaled)</div>
<div id="L252" class="sr" style="font-size:15.15px;line-height:18.0px;top:629.99px;left:3253.50px;width:380.00px;">often came within 0.5 points of TA grading on average.</div>
<div id="L253" class="sr j" style="font-size:15.15px;line-height:18.0px;top:657.09px;left:3253.50px;width:380.00px;text-indent:15.07px;">In contrast, the 10-point rubric versions were more rigid. AI</div>
<div id="L254" class="sr j" style="font-size:15.15px;line-height:18.0px;top:675.09px;left:3253.50px;width:380.00px;">tended to cluster scores in round numbers (6, 7, 8) rather than</div>
<div id="L255" class="sr j" style="font-size:15.15px;line-height:18.0px;top:693.09px;left:3253.50px;width:380.00px;">capturing finer nuance. Thus, rubrics with higher resolution</div>
<div id="L256" class="sr" style="font-size:15.15px;line-height:18.0px;top:711.09px;left:3253.50px;width:380.00px;">may be preferable when using AI grading.</div>
<div class="sr h2" style="font-size:15.15px;line-height:18.0px;top:806.79px;left:3253.5px;width:380.0px">D.&ensp;Prompt Refinement</div>
<div id="L258" class="sr j" style="font-size:15.15px;line-height:18.0px;top:856.19px;left:3253.50px;width:380.00px;text-indent:15.07px;">Prompt engineering was critical. In early versions, vague</div>
<div id="L259" class="sr j" style="font-size:15.15px;line-height:18.0px;top:874.19px;left:3253.50px;width:380.00px;">prompts often led to inconsistent or overly generous grade.</div>
<div id="L260" class="sr j" style="font-size:15.15px;line-height:18.0px;top:892.19px;left:3253.50px;width:380.00px;">Direct prompts benefited from explicit instructions to apply</div>
<div id="L261" class="sr j" style="font-size:15.15px;line-height:18.0px;top:910.19px;left:3253.50px;width:380.00px;">each rubric row independently and give concise rationales.</div>
<div id="L262" class="sr j" style="font-size:15.15px;line-height:18.0px;top:928.19px;left:3253.50px;width:380.00px;">Reverse prompts improved when we included the expectation</div>
<div id="L263" class="sr j" style="font-size:15.15px;line-height:18.0px;top:946.19px;left:3253.50px;width:380.00px;">to classify each fix (major/minor) and apply deductions ac-</div>
<div id="L264" class="sr" style="font-size:15.15px;line-height:18.0px;top:964.19px;left:3253.50px;width:380.00px;">cordingly.</div>
<div id="L265" class="sr j" style="font-size:15.15px;line-height:18.0px;top:991.69px;left:3253.50px;width:380.00px;text-indent:15.07px;">As prompts evolved, grading consistency improved, espe-</div>
<div id="L266" class="sr" style="font-size:15.15px;line-height:18.0px;top:1009.69px;left:3253.50px;width:380.00px;">cially for borderline Moderate / Good cases.</div>
<div id="L267" class="sr j" style="font-size:15.15px;line-height:18.0px;top:1035.49px;left:3253.50px;width:380.00px;text-indent:15.07px;">To better visualize how the different grading methods per-</div>
<div id="L268" class="sr j" style="font-size:15.15px;line-height:18.0px;top:1053.49px;left:3253.50px;width:380.00px;">formed across the three quality bands, we created a series of</div>
<div id="L269" class="sr" style="font-size:15.15px;line-height:18.0px;top:1071.49px;left:3253.50px;width:380.00px;">box plots, shown in Figures 5 to 8.</div>
<div id="L270" class="sr j" style="font-size:15.15px;line-height:18.0px;top:332.19px;left:3782.00px;width:380.00px;">Fig. 5: Box plot: Good-quality submissions across grading</div>
<div id="L271" class="sr j" style="font-size:15.15px;line-height:18.0px;top:350.19px;left:3782.00px;width:380.00px;">methods. AI (especially Reverse methods) aligns closely with</div>
<div id="L272" class="sr" style="font-size:15.15px;line-height:18.0px;top:368.19px;left:3782.00px;width:380.00px;">TA.</div>
<div id="L273" class="sr j" style="font-size:15.15px;line-height:18.0px;top:612.19px;left:3782.00px;width:380.00px;">Fig. 6: Box plot: Moderate-quality submissions across grading</div>
<div id="L274" class="sr j" style="font-size:15.15px;line-height:18.0px;top:630.19px;left:3782.00px;width:380.00px;">methods. Reverse performs well, though spread is slightly</div>
<div id="L275" class="sr" style="font-size:15.15px;line-height:18.0px;top:648.19px;left:3782.00px;width:380.00px;">higher.</div>
<div id="L276" class="sr j" style="font-size:15.15px;line-height:18.0px;top:1030.09px;left:3782.00px;width:380.00px;">Fig. 7: Box plot: Poor-quality submissions across grading</div>
<div id="L277" class="sr j" style="font-size:15.15px;line-height:18.0px;top:1048.09px;left:3782.00px;width:380.00px;">methods. Reverse scores tend to be higher than TA—may</div>
<div id="L278" class="sr" style="font-size:15.15px;line-height:18.0px;top:1066.09px;left:3782.00px;width:380.00px;">indicate under-penalization.</div>
<div id="L279" class="sr j" style="font-size:15.15px;line-height:18.0px;top:353.29px;left:4180.50px;width:380.00px;">Fig. 8: Box plot: All submissions combined. AI shows promis-</div>
<div id="L280" class="sr j" style="font-size:15.15px;line-height:18.0px;top:371.29px;left:4180.50px;width:380.00px;">ing consistency, though Reverse (100 scaled) skews slightly</div>
<div id="L281" class="sr" style="font-size:15.15px;line-height:18.0px;top:389.29px;left:4180.50px;width:380.00px;">higher overall.</div>
<div class="sr h1" style="font-size:15.15px;line-height:18.0px;top:428.49px;left:4180.5px;width:380.0px">V.&ensp;D<span class="sc">ISCUSSION</span></div>
<div class="sr h2" style="font-size:15.15px;line-height:18.0px;top:452.49px;left:4180.5px;width:380.0px">A.&ensp;Rubric Design</div>
<div id="L284" class="sr j" style="font-size:15.15px;line-height:18.0px;top:475.19px;left:4180.50px;width:380.00px;text-indent:15.07px;">One of the most important factors affecting model perfor-</div>
<div id="L285" class="sr j" style="font-size:15.15px;line-height:18.0px;top:493.19px;left:4180.50px;width:380.00px;word-spacing:-0.38px;">mance was rubric clarity. Rubrics that had specific, measurable</div>
<div id="L286" class="sr j" style="font-size:15.15px;line-height:18.0px;top:511.19px;left:4180.50px;width:380.00px;">items helped the model apply scores more consistently. In the</div>
<div id="L287" class="sr j" style="font-size:15.15px;line-height:18.0px;top:529.19px;left:4180.50px;width:380.00px;word-spacing:-0.11px;">Direct method, this helped the model stay focused on each cat-</div>
<div id="L288" class="sr j" style="font-size:15.15px;line-height:18.0px;top:547.19px;left:4180.50px;width:380.00px;">egory, while in the Reverse method, it guided how the model</div>
<div id="L289" class="sr j" style="font-size:15.15px;line-height:18.0px;top:565.19px;left:4180.50px;width:380.00px;">interpreted and explained the fixes it made. This highlights</div>
<div id="L290" class="sr j" style="font-size:15.15px;line-height:18.0px;top:583.19px;left:4180.50px;width:380.00px;">that rubrics do not only affect grading fairness for humans,</div>
<div id="L291" class="sr j" style="font-size:15.15px;line-height:18.0px;top:601.19px;left:4180.50px;width:380.00px;">but also directly shape the reasoning of automated systems.</div>
<div id="L292" class="sr j" style="font-size:15.15px;line-height:18.0px;top:619.19px;left:4180.50px;width:380.00px;">For instructors, it means that any AI grading setup needs to</div>
<div id="L293" class="sr j" style="font-size:15.15px;line-height:18.0px;top:637.19px;left:4180.50px;width:380.00px;">be paired with clear, detailed rubrics to avoid inconsistent or</div>
<div id="L294" class="sr" style="font-size:15.15px;line-height:18.0px;top:655.19px;left:4180.50px;width:380.00px;">misleading feedback.</div>
<div class="sr h2" style="font-size:15.15px;line-height:18.0px;top:686.09px;left:4180.5px;width:380.0px">B.&ensp;Debugging vs. Direct Scoring</div>
<div id="L296" class="sr j" style="font-size:15.15px;line-height:18.0px;top:709.29px;left:4180.50px;width:380.00px;text-indent:15.07px;">The Direct approach is simpler to prompt and faster to run,</div>
<div id="L297" class="sr j" style="font-size:15.15px;line-height:18.0px;top:727.29px;left:4180.50px;width:380.00px;word-spacing:-0.08px;">but it sometimes failed to detect deeper logic issues, especially</div>
<div id="L298" class="sr j" style="font-size:15.15px;line-height:18.0px;top:745.29px;left:4180.50px;width:380.00px;">in submissions that looked structurally correct. The Reverse</div>
<div id="L299" class="sr j" style="font-size:15.15px;line-height:18.0px;top:763.29px;left:4180.50px;width:380.00px;">method offered a more detailed view of how the code could</div>
<div id="L300" class="sr j" style="font-size:15.15px;line-height:18.0px;top:781.29px;left:4180.50px;width:380.00px;">be repaired, and then scored based on the nature and number</div>
<div id="L301" class="sr j" style="font-size:15.15px;line-height:18.0px;top:799.29px;left:4180.50px;width:380.00px;">of corrections. This can have a positive impact on student</div>
<div id="L302" class="sr j" style="font-size:15.15px;line-height:18.0px;top:817.29px;left:4180.50px;width:380.00px;">learning, since the feedback shows not only what went wrong,</div>
<div id="L303" class="sr j" style="font-size:15.15px;line-height:18.0px;top:835.29px;left:4180.50px;width:380.00px;">but also how it could be fixed. In a real course, Reverse-style</div>
<div id="L304" class="sr j" style="font-size:15.15px;line-height:18.0px;top:853.29px;left:4180.50px;width:380.00px;">feedback might encourage students to reflect more on their</div>
<div id="L305" class="sr j" style="font-size:15.15px;line-height:18.0px;top:871.29px;left:4180.50px;width:380.00px;">mistakes and see grading as more constructive rather than</div>
<div id="L306" class="sr j" style="font-size:15.15px;line-height:18.0px;top:889.29px;left:4180.50px;width:380.00px;">purely judgmental. However, this method also requires more</div>
<div id="L307" class="sr j" style="font-size:15.15px;line-height:18.0px;top:907.29px;left:4180.50px;width:380.00px;">prompt engineering and computational time, so its practical</div>
<div id="L308" class="sr" style="font-size:15.15px;line-height:18.0px;top:925.29px;left:4180.50px;width:380.00px;">use may depend on available resources.</div>
<div id="L309" class="sr j" style="font-size:15.15px;line-height:18.0px;top:944.89px;left:4180.50px;width:380.00px;text-indent:15.07px;">While the overall box plots suggest that the Reverse method</div>
<div id="L310" class="sr j" style="font-size:15.15px;line-height:18.0px;top:962.89px;left:4180.50px;width:380.00px;">sometimes diverges from TA grading, this is largely due to its</div>
<div id="L311" class="sr j" style="font-size:15.15px;line-height:18.0px;top:980.89px;left:4180.50px;width:380.00px;">tendency to overestimate scores on poor-quality submissions.</div>
<div id="L312" class="sr j" style="font-size:15.15px;line-height:18.0px;top:998.89px;left:4180.50px;width:380.00px;">When analyzed by category, however, Reverse aligns more</div>
<div id="L313" class="sr j" style="font-size:15.15px;line-height:18.0px;top:1016.89px;left:4180.50px;width:380.00px;">closely with TA grading on moderate and good submissions,</div>
<div id="L314" class="sr j" style="font-size:15.15px;line-height:18.0px;top:1034.89px;left:4180.50px;width:380.00px;">which supports our earlier claim of its relative strength. This</div>
<div id="L315" class="sr j" style="font-size:15.15px;line-height:18.0px;top:1052.89px;left:4180.50px;width:380.00px;word-spacing:-0.76px;">distinction between aggregate and per-category results explains</div>
<div id="L316" class="sr" style="font-size:15.15px;line-height:18.0px;top:1070.89px;left:4180.50px;width:380.00px;">the apparent contradiction.</div>
<div class="sr stamp">arXiv:2511.14798v1&nbsp; [cs.SE]&nbsp; 17 Nov 2025</div>
<div class="sr ctr title" style="top:74.74px;left:0;width:927px;font-size:36.35px;line-height:42px">Evaluating Generative AI for CS1 Code Grading:</div>
<div class="sr ctr title" style="top:116.74px;left:0;width:927px;font-size:36.35px;line-height:42px">Direct vs Reverse Methods</div>
<div class="sr ctr" style="top:183.28px;left:88.60000000000002px;width:400px;font-size:16.66px;line-height:18px">Ahmad Memon</div>
<div class="sr ctr" style="top:203.29px;left:88.60000000000002px;width:400px;font-size:15.15px;line-height:18px">University of British Columbia Okanagan</div>
<div class="sr ctr" style="top:221.29px;left:88.60000000000002px;width:400px;font-size:15.15px;line-height:18px">Email: amemon03@student.ubc.ca</div>
<div class="sr ctr" style="top:183.28px;left:438.29999999999995px;width:400px;font-size:16.66px;line-height:18px">Abdallah Mohamed</div>
<div class="sr ctr" style="top:203.29px;left:438.29999999999995px;width:400px;font-size:15.15px;line-height:18px">University of British Columbia Okanagan</div>
<div class="sr ctr" style="top:221.29px;left:438.29999999999995px;width:400px;font-size:15.15px;line-height:18px">Email: abdallah.mohamed@ubc.ca</div>
<svg style="position:absolute;left:0;top:0" width="4635" height="1200">
<path d="M1069.8,106.6 Q1069.8,102.6 1073.8,102.6 L1167.4,102.6 Q1171.4,102.6 1171.4,106.6 L1171.4,194 C1162,186 1152,177 1138,178 C1118,179 1108,193 1094,193 C1082,193 1074,186 1069.8,180 Z" fill="#9a98fc"/>
<text x="1120.50" y="127.50" font-family="Liberation Sans" font-size="16.2" fill="#161b25" text-anchor="middle" font-weight="normal" stroke="#161b25" stroke-width="0.3">Student</text>
<text x="1120.50" y="147.00" font-family="Liberation Sans" font-size="16.2" fill="#161b25" text-anchor="middle" font-weight="normal" stroke="#161b25" stroke-width="0.3">Submits</text>
<text x="1120.50" y="165.90" font-family="Liberation Sans" font-size="16.2" fill="#161b25" text-anchor="middle" font-weight="normal" stroke="#161b25" stroke-width="0.3">Code</text>
<line x1="1120.5" y1="187" x2="1120.5" y2="221.9" stroke="#737882" stroke-width="1.3"/>
<path d="M1116.3,220.9 L1124.7,220.9 L1120.5,229.9 Z" fill="#4b5361"/>
<rect x="1068.6" y="229.9" width="104.30" height="78.00" rx="4" fill="#6aaefd"/>
<text x="1120.50" y="265.00" font-family="Liberation Sans" font-size="16.2" fill="#161b25" text-anchor="middle" font-weight="normal" stroke="#161b25" stroke-width="0.3">Execute</text>
<text x="1120.50" y="283.90" font-family="Liberation Sans" font-size="16.2" fill="#161b25" text-anchor="middle" font-weight="normal" stroke="#161b25" stroke-width="0.3">Unit Tests</text>
<line x1="1120.5" y1="307.9" x2="1120.5" y2="323.5" stroke="#737882" stroke-width="1.3"/>
<path d="M1116.3,322.5 L1124.7,322.5 L1120.5,331.5 Z" fill="#4b5361"/>
<path d="M1120.5,331.5 L1178.9,382 L1120.5,432.5 L1062.6,382 Z" fill="#fff" stroke="#2a73cf" stroke-width="2" stroke-linejoin="round"/>
<text x="1120.50" y="378.30" font-family="Liberation Sans" font-size="16.2" fill="#161b25" text-anchor="middle" font-weight="normal" stroke="#161b25" stroke-width="0.3">Passed All</text>
<text x="1120.50" y="396.90" font-family="Liberation Sans" font-size="16.2" fill="#161b25" text-anchor="middle" font-weight="normal" stroke="#161b25" stroke-width="0.3">Unit tests</text>
<line x1="1179.5" y1="382" x2="1192" y2="382" stroke="#f07575" stroke-width="1.6"/>
<line x1="1214" y1="382" x2="1221" y2="382" stroke="#f07575" stroke-width="1.6"/>
<path d="M1219,377.8 L1228.4,382 L1219,386.2 Z" fill="#f07575"/>
<text x="1203.00" y="387.80" font-family="Liberation Sans" font-size="15.5" fill="#2d3340" text-anchor="middle" font-weight="normal" stroke="#2d3340" stroke-width="0.25">No</text>
<rect x="1228.4" y="347.4" width="92.10" height="69.10" rx="4" fill="#6aaefd"/>
<text x="1274.50" y="369.00" font-family="Liberation Sans" font-size="16.2" fill="#161b25" text-anchor="middle" font-weight="normal" stroke="#161b25" stroke-width="0.3">Forward to</text>
<text x="1274.50" y="387.90" font-family="Liberation Sans" font-size="16.2" fill="#161b25" text-anchor="middle" font-weight="normal" stroke="#161b25" stroke-width="0.3">LLM for</text>
<text x="1274.50" y="406.50" font-family="Liberation Sans" font-size="16.2" fill="#161b25" text-anchor="middle" font-weight="normal" stroke="#161b25" stroke-width="0.3">grading</text>
<line x1="1120.5" y1="433" x2="1120.5" y2="447" stroke="#4fc15a" stroke-width="1.6"/>
<line x1="1120.5" y1="467" x2="1120.5" y2="476" stroke="#4fc15a" stroke-width="1.6"/>
<path d="M1116.3,473 L1124.7,473 L1120.5,482.5 Z" fill="#4fc15a"/>
<text x="1120.50" y="463.80" font-family="Liberation Sans" font-size="15.5" fill="#2d3340" text-anchor="middle" font-weight="normal" stroke="#2d3340" stroke-width="0.25">Yes</text>
<rect x="1068.6" y="482.5" width="104.30" height="92.30" rx="4" fill="#6aaefd"/>
<text x="1120.50" y="505.50" font-family="Liberation Sans" font-size="16.2" fill="#3d4654" text-anchor="middle" font-weight="normal" stroke="#3d4654" stroke-width="0.3">Assign</text>
<text x="1120.50" y="524.40" font-family="Liberation Sans" font-size="16.2" fill="#3d4654" text-anchor="middle" font-weight="normal" stroke="#3d4654" stroke-width="0.3">Grades</text>
<text x="1120.50" y="543.90" font-family="Liberation Sans" font-size="16.2" fill="#3d4654" text-anchor="middle" font-weight="normal" stroke="#3d4654" stroke-width="0.3">(Based on</text>
<text x="1120.50" y="563.40" font-family="Liberation Sans" font-size="16.2" fill="#3d4654" text-anchor="middle" font-weight="normal" stroke="#3d4654" stroke-width="0.3">Unit Tests)</text>
<line x1="1120.5" y1="574.8" x2="1120.5" y2="631.6" stroke="#737882" stroke-width="1.3"/>
<path d="M1116.3,630.6 L1124.7,630.6 L1120.5,639.6 Z" fill="#4b5361"/>
<rect x="1068.4" y="639.6" width="104.90" height="52.70" rx="26.349999999999966" fill="#12bfa2"/>
<text x="1120.50" y="672.00" font-family="Liberation Sans" font-size="16.2" fill="#161b25" text-anchor="middle" font-weight="normal" stroke="#161b25" stroke-width="0.45">Done</text>
<rect x="1952" y="383.4" width="86.30" height="53.50" rx="26.75" fill="#12bfa2" stroke="#2c5d57" stroke-width="0.8"/>
<text x="1995.20" y="408.30" font-family="Liberation Sans" font-size="11.2" fill="#161b25" text-anchor="middle" font-weight="normal" stroke="#161b25" stroke-width="0.3">Prompts and</text>
<text x="1995.20" y="421.00" font-family="Liberation Sans" font-size="11.2" fill="#161b25" text-anchor="middle" font-weight="normal" stroke="#161b25" stroke-width="0.3">Rubric</text>
<rect x="2197.8" y="383.4" width="86.30" height="53.50" rx="26.75" fill="#12bfa2" stroke="#2c5d57" stroke-width="0.8"/>
<text x="2241.00" y="408.30" font-family="Liberation Sans" font-size="11.2" fill="#161b25" text-anchor="middle" font-weight="normal" stroke="#161b25" stroke-width="0.3">Student Code</text>
<text x="2241.00" y="421.00" font-family="Liberation Sans" font-size="11.2" fill="#161b25" text-anchor="middle" font-weight="normal" stroke="#161b25" stroke-width="0.3">Submission</text>
<line x1="2031.1" y1="429.2" x2="2105.23" y2="465.99" stroke="#737882" stroke-width="0.9"/>
<path d="M2102.56,469.13 L2111.5,469.1 L2106.11,461.96 L2107.02,466.88 Z" fill="#4b5361"/>
<line x1="2204.9" y1="429.8" x2="2123.88" y2="466.23" stroke="#737882" stroke-width="0.9"/>
<path d="M2123.16,462.17 L2117.5,469.1 L2126.44,469.47 L2122.06,467.05 Z" fill="#4b5361"/>
<rect x="2062.5" y="469.1" width="100.20" height="65.50" rx="3" fill="#6aaefd" stroke="#3c4a5c" stroke-width="0.9"/>
<text x="2112.60" y="499.60" font-family="Liberation Sans" font-size="11.5" fill="#161b25" text-anchor="middle" font-weight="normal" stroke="#161b25" stroke-width="0.3">LLM recieves</text>
<text x="2112.60" y="513.00" font-family="Liberation Sans" font-size="11.5" fill="#161b25" text-anchor="middle" font-weight="normal" stroke="#161b25" stroke-width="0.3">code + Rubric</text>
<line x1="2112.4" y1="534.6" x2="2112.4" y2="575.5" stroke="#737882" stroke-width="0.9"/>
<path d="M2108.6,574.5 L2116.2000000000003,574.5 L2112.4,582.5 Z" fill="#4b5361"/>
<rect x="2066.1" y="582.5" width="93.50" height="73.30" rx="3" fill="#6aaefd" stroke="#3c4a5c" stroke-width="0.9"/>
<text x="2112.80" y="610.40" font-family="Liberation Sans" font-size="11.5" fill="#161b25" text-anchor="middle" font-weight="normal" stroke="#161b25" stroke-width="0.3">Assigns Score</text>
<text x="2112.80" y="623.80" font-family="Liberation Sans" font-size="11.5" fill="#161b25" text-anchor="middle" font-weight="normal" stroke="#161b25" stroke-width="0.3">for Each Rubric</text>
<text x="2112.80" y="637.30" font-family="Liberation Sans" font-size="11.5" fill="#161b25" text-anchor="middle" font-weight="normal" stroke="#161b25" stroke-width="0.3">Point</text>
<line x1="2112.4" y1="655.8" x2="2112.4" y2="697.8" stroke="#737882" stroke-width="0.9"/>
<path d="M2108.6,696.8 L2116.2000000000003,696.8 L2112.4,704.8 Z" fill="#4b5361"/>
<rect x="2069.7" y="704.8" width="86.30" height="63.40" rx="3" fill="#6aaefd" stroke="#3c4a5c" stroke-width="0.9"/>
<text x="2112.80" y="734.50" font-family="Liberation Sans" font-size="11.5" fill="#161b25" text-anchor="middle" font-weight="normal" stroke="#161b25" stroke-width="0.3">Final grade</text>
<text x="2112.80" y="748.00" font-family="Liberation Sans" font-size="11.5" fill="#161b25" text-anchor="middle" font-weight="normal" stroke="#161b25" stroke-width="0.3">computed</text>
<line x1="2112.4" y1="768.2" x2="2112.4" y2="793.6" stroke="#737882" stroke-width="0.9"/>
<path d="M2108.6,792.6 L2116.2000000000003,792.6 L2112.4,800.6 Z" fill="#4b5361"/>
<rect x="2069.7" y="800.6" width="86.30" height="42.70" rx="21.349999999999966" fill="#12bfa2" stroke="#2c5d57" stroke-width="0.8"/>
<text x="2112.80" y="826.20" font-family="Liberation Sans" font-size="11.5" fill="#161b25" text-anchor="middle" font-weight="normal" >End</text>
<rect x="2351.4" y="101.4" width="101.40" height="50.70" rx="25.349999999999994" fill="#12bfa2" stroke="#2c5d57" stroke-width="0.8"/>
<text x="2402.10" y="123.50" font-family="Liberation Sans" font-size="13.4" fill="#161b25" text-anchor="middle" font-weight="normal" stroke="#161b25" stroke-width="0.3">Prompt and</text>
<text x="2402.10" y="139.40" font-family="Liberation Sans" font-size="13.4" fill="#161b25" text-anchor="middle" font-weight="normal" stroke="#161b25" stroke-width="0.3">Rubric</text>
<rect x="2579" y="101.4" width="101.30" height="50.70" rx="25.349999999999994" fill="#12bfa2" stroke="#2c5d57" stroke-width="0.8"/>
<text x="2629.60" y="123.50" font-family="Liberation Sans" font-size="13.4" fill="#161b25" text-anchor="middle" font-weight="normal" stroke="#161b25" stroke-width="0.3">Student Code</text>
<text x="2629.60" y="139.40" font-family="Liberation Sans" font-size="13.4" fill="#161b25" text-anchor="middle" font-weight="normal" stroke="#161b25" stroke-width="0.3">Submission</text>
<line x1="2443.4" y1="146.2" x2="2516.81" y2="218.87" stroke="#737882" stroke-width="1.0"/>
<path d="M2512.94,221.37 L2522.5,224.5 L2519.27,214.97 L2518.24,220.28 Z" fill="#4b5361"/>
<line x1="2592.8" y1="149.7" x2="2532.76" y2="218.47" stroke="#737882" stroke-width="1.0"/>
<path d="M2530.03,214.76 L2527.5,224.5 L2536.81,220.68 L2531.45,219.98 Z" fill="#4b5361"/>
<rect x="2473.8" y="224.5" width="101.40" height="75.80" rx="3" fill="#6aaefd" stroke="#3c4a5c" stroke-width="0.9"/>
<text x="2524.50" y="267.60" font-family="Liberation Sans" font-size="13.6" fill="#161b25" text-anchor="middle" font-weight="normal" >LLM</text>
<line x1="2524.5" y1="300.3" x2="2524.5" y2="321.9" stroke="#737882" stroke-width="1.0"/>
<path d="M2520.5,320.9 L2528.5,320.9 L2524.5,329.9 Z" fill="#4b5361"/>
<rect x="2458.9" y="329.9" width="131.20" height="75.70" rx="3" fill="#6aaefd" stroke="#3c4a5c" stroke-width="0.9"/>
<text x="2524.50" y="373.30" font-family="Liberation Sans" font-size="13.6" fill="#161b25" text-anchor="middle" font-weight="normal" >AI Fixes Code</text>
<line x1="2524.5" y1="405.6" x2="2524.5" y2="426.8" stroke="#737882" stroke-width="1.0"/>
<path d="M2520.5,425.8 L2528.5,425.8 L2524.5,434.8 Z" fill="#4b5361"/>
<rect x="2473.9" y="434.8" width="101.20" height="75.70" rx="3" fill="#6aaefd" stroke="#3c4a5c" stroke-width="0.9"/>
<text x="2524.50" y="462.50" font-family="Liberation Sans" font-size="13.4" fill="#161b25" text-anchor="middle" font-weight="normal" stroke="#161b25" stroke-width="0.3">Compare</text>
<text x="2524.50" y="478.50" font-family="Liberation Sans" font-size="13.4" fill="#161b25" text-anchor="middle" font-weight="normal" stroke="#161b25" stroke-width="0.3">fixes to</text>
<text x="2524.50" y="494.60" font-family="Liberation Sans" font-size="13.4" fill="#161b25" text-anchor="middle" font-weight="normal" stroke="#161b25" stroke-width="0.3">Rubric</text>
<line x1="2524.5" y1="510.5" x2="2524.5" y2="532.5" stroke="#737882" stroke-width="1.0"/>
<path d="M2520.5,531.5 L2528.5,531.5 L2524.5,540.5 Z" fill="#4b5361"/>
<rect x="2460.7" y="540.5" width="126.90" height="111.20" rx="3" fill="#6aaefd" stroke="#3c4a5c" stroke-width="0.9"/>
<text x="2524.50" y="601.00" font-family="Liberation Sans" font-size="14.0" fill="#161b25" text-anchor="middle" font-weight="normal" >Assign score</text>
<line x1="2524.5" y1="651.7" x2="2524.5" y2="675.6" stroke="#737882" stroke-width="1.0"/>
<path d="M2520.5,674.6 L2528.5,674.6 L2524.5,683.6 Z" fill="#4b5361"/>
<rect x="2460.7" y="683.6" width="126.90" height="80.50" rx="3" fill="#6aaefd" stroke="#3c4a5c" stroke-width="0.9"/>
<text x="2524.50" y="705.20" font-family="Liberation Sans" font-size="14.0" fill="#161b25" text-anchor="middle" font-weight="normal" stroke="#161b25" stroke-width="0.3">Final Grade</text>
<text x="2524.50" y="721.40" font-family="Liberation Sans" font-size="14.0" fill="#161b25" text-anchor="middle" font-weight="normal" stroke="#161b25" stroke-width="0.3">Computed</text>
<text x="2524.50" y="737.60" font-family="Liberation Sans" font-size="14.0" fill="#161b25" text-anchor="middle" font-weight="normal" stroke="#161b25" stroke-width="0.3">(Based on</text>
<text x="2524.50" y="753.80" font-family="Liberation Sans" font-size="14.0" fill="#161b25" text-anchor="middle" font-weight="normal" stroke="#161b25" stroke-width="0.3">Correction Effort)</text>
<line x1="2524.5" y1="764.1" x2="2524.5" y2="782" stroke="#737882" stroke-width="1.0"/>
<path d="M2520.5,781 L2528.5,781 L2524.5,790 Z" fill="#4b5361"/>
<rect x="2473.1" y="790" width="101.50" height="49.70" rx="24.850000000000023" fill="#12bfa2" stroke="#2c5d57" stroke-width="0.8"/>
<text x="2524.50" y="820.80" font-family="Liberation Sans" font-size="13.6" fill="#161b25" text-anchor="middle" font-weight="normal" >End</text>
<text x="1417.1" y="908.90" font-family="Liberation Mono" font-size="7.32" fill="#3a3a3a" xml:space="preserve">java</text>
<text x="1417.1" y="917.87" font-family="Liberation Mono" font-size="7.32" fill="#3a3a3a" xml:space="preserve">CopyEdit</text>
<text x="1417.1" y="926.84" font-family="Liberation Mono" font-size="7.32" fill="#3a3a3a" xml:space="preserve">public class Add {</text>
<text x="1417.1" y="935.81" font-family="Liberation Mono" font-size="7.32" fill="#3a3a3a" xml:space="preserve">   public static void main(String[] args) {</text>
<text x="1417.1" y="944.78" font-family="Liberation Mono" font-size="7.32" fill="#3a3a3a" xml:space="preserve">       int x = 5</text>
<text x="1417.1" y="953.75" font-family="Liberation Mono" font-size="7.32" fill="#3a3a3a" xml:space="preserve">       int y = 10</text>
<text x="1417.1" y="962.72" font-family="Liberation Mono" font-size="7.32" fill="#3a3a3a" xml:space="preserve">       System.out.println "Sum: " + x + y // Multiple missing semicolons,</text>
<text x="1417.1" y="971.69" font-family="Liberation Mono" font-size="7.32" fill="#3a3a3a" xml:space="preserve">incorrect method call</text>
<text x="1417.1" y="980.66" font-family="Liberation Mono" font-size="7.32" fill="#3a3a3a" xml:space="preserve">   }</text>
<text x="1417.1" y="989.63" font-family="Liberation Mono" font-size="7.32" fill="#3a3a3a" xml:space="preserve">}</text>
<text x="3800.0" y="516.90" font-family="Liberation Mono" font-size="7.32" fill="#3a3a3a" xml:space="preserve">java</text>
<text x="3800.0" y="525.87" font-family="Liberation Mono" font-size="7.32" fill="#3a3a3a" xml:space="preserve">CopyEdit</text>
<text x="3800.0" y="534.84" font-family="Liberation Mono" font-size="7.32" fill="#3a3a3a" xml:space="preserve">public class Add {</text>
<text x="3800.0" y="543.81" font-family="Liberation Mono" font-size="7.32" fill="#3a3a3a" xml:space="preserve">   public static void main(String[] args) {</text>
<text x="3800.0" y="552.78" font-family="Liberation Mono" font-size="7.32" fill="#3a3a3a" xml:space="preserve">       int x = 5</text>
<text x="3800.0" y="561.75" font-family="Liberation Mono" font-size="7.32" fill="#3a3a3a" xml:space="preserve">       int y = 10</text>
<text x="3800.0" y="570.72" font-family="Liberation Mono" font-size="7.32" fill="#3a3a3a" xml:space="preserve">       System.out.println "Sum: " + x + y // Multiple missing semicolons,</text>
<text x="3800.0" y="579.69" font-family="Liberation Mono" font-size="7.32" fill="#3a3a3a" xml:space="preserve">incorrect method call</text>
<text x="3800.0" y="588.66" font-family="Liberation Mono" font-size="7.32" fill="#3a3a3a" xml:space="preserve">   }</text>
<text x="3800.0" y="597.63" font-family="Liberation Mono" font-size="7.32" fill="#3a3a3a" xml:space="preserve">}</text>
<rect x="3310.5" y="98.8" width="266.2" height="1.2" fill="#000"/>
<rect x="3310.5" y="120.4" width="266.2" height="0.8" fill="#000"/>
<rect x="3310.5" y="196.0" width="266.2" height="1.2" fill="#000"/>
<text x="3310.50" y="113.30" font-family="Liberation Serif" font-size="12.1" fill="#000" text-anchor="start" font-weight="normal" >Method</text>
<text x="3456.00" y="113.30" font-family="Liberation Serif" font-size="12.1" fill="#000" text-anchor="middle" font-weight="normal" >Poor</text>
<text x="3508.80" y="113.30" font-family="Liberation Serif" font-size="12.1" fill="#000" text-anchor="middle" font-weight="normal" >Moderate</text>
<text x="3563.20" y="113.30" font-family="Liberation Serif" font-size="12.1" fill="#000" text-anchor="middle" font-weight="normal" >Good</text>
<text x="3310.50" y="134.90" font-family="Liberation Serif" font-size="12.1" fill="#000" text-anchor="start" font-weight="normal" word-spacing="0.9">Human TA</text>
<text x="3455.80" y="134.90" font-family="Liberation Serif" font-size="12.1" fill="#000" text-anchor="middle" font-weight="normal" >2.27</text>
<text x="3508.70" y="134.90" font-family="Liberation Serif" font-size="12.1" fill="#000" text-anchor="middle" font-weight="normal" >5.68</text>
<text x="3562.50" y="134.90" font-family="Liberation Serif" font-size="12.1" fill="#000" text-anchor="middle" font-weight="normal" >7.83</text>
<text x="3310.50" y="148.35" font-family="Liberation Serif" font-size="12.1" fill="#000" text-anchor="start" font-weight="normal" word-spacing="0.9">Direct (10-pt)</text>
<text x="3455.80" y="148.35" font-family="Liberation Serif" font-size="12.1" fill="#000" text-anchor="middle" font-weight="normal" >3.20</text>
<text x="3508.70" y="148.35" font-family="Liberation Serif" font-size="12.1" fill="#000" text-anchor="middle" font-weight="normal" >6.12</text>
<text x="3562.50" y="148.35" font-family="Liberation Serif" font-size="12.1" fill="#000" text-anchor="middle" font-weight="normal" >7.54</text>
<text x="3310.50" y="161.80" font-family="Liberation Serif" font-size="12.1" fill="#000" text-anchor="start" font-weight="normal" word-spacing="0.9">Direct (100-pt scaled)</text>
<text x="3455.80" y="161.80" font-family="Liberation Serif" font-size="12.1" fill="#000" text-anchor="middle" font-weight="normal" >3.94</text>
<text x="3508.70" y="161.80" font-family="Liberation Serif" font-size="12.1" fill="#000" text-anchor="middle" font-weight="normal" >6.21</text>
<text x="3562.50" y="161.80" font-family="Liberation Serif" font-size="12.1" fill="#000" text-anchor="middle" font-weight="normal" >7.81</text>
<text x="3310.50" y="175.25" font-family="Liberation Serif" font-size="12.1" fill="#000" text-anchor="start" font-weight="normal" word-spacing="0.9">Reverse (10-pt)</text>
<text x="3455.80" y="175.25" font-family="Liberation Serif" font-size="12.1" fill="#000" text-anchor="middle" font-weight="normal" >4.25</text>
<text x="3508.70" y="175.25" font-family="Liberation Serif" font-size="12.1" fill="#000" text-anchor="middle" font-weight="normal" >6.73</text>
<text x="3562.50" y="175.25" font-family="Liberation Serif" font-size="12.1" fill="#000" text-anchor="middle" font-weight="normal" >8.99</text>
<text x="3310.50" y="188.70" font-family="Liberation Serif" font-size="12.1" fill="#000" text-anchor="start" font-weight="normal" word-spacing="0.9">Reverse (100-pt scaled)</text>
<text x="3455.80" y="188.70" font-family="Liberation Serif" font-size="12.1" fill="#000" text-anchor="middle" font-weight="normal" >5.74</text>
<text x="3508.70" y="188.70" font-family="Liberation Serif" font-size="12.1" fill="#000" text-anchor="middle" font-weight="normal" >7.37</text>
<text x="3562.50" y="188.70" font-family="Liberation Serif" font-size="12.1" fill="#000" text-anchor="middle" font-weight="normal" >9.05</text>
<line x1="4147.2" y1="75.5" x2="4147.2" y2="323.5" stroke="#ececec" stroke-width="1"/>
<text x="3971.30" y="91.00" font-family="Liberation Sans" font-size="11.6" fill="#555555" text-anchor="middle" font-weight="normal" textLength="307" lengthAdjust="spacingAndGlyphs" stroke="#555555" stroke-width="0.2">Score Distribution of Good-Quality Submissions Across Grading</text>
<text x="3971.30" y="105.70" font-family="Liberation Sans" font-size="11.6" fill="#555555" text-anchor="middle" font-weight="normal" textLength="44" lengthAdjust="spacingAndGlyphs" stroke="#555555" stroke-width="0.2">Methods</text>
<line x1="3814.7" y1="260.10" x2="4141.5" y2="260.10" stroke="#d9d9d9" stroke-width="0.8"/>
<text x="3808.00" y="262.84" font-family="Liberation Sans" font-size="7.6" fill="#505050" text-anchor="end" font-weight="normal" >0</text>
<line x1="3814.7" y1="238.66" x2="4141.5" y2="238.66" stroke="#d9d9d9" stroke-width="0.8"/>
<text x="3808.00" y="241.40" font-family="Liberation Sans" font-size="7.6" fill="#505050" text-anchor="end" font-weight="normal" >2</text>
<line x1="3814.7" y1="217.22" x2="4141.5" y2="217.22" stroke="#d9d9d9" stroke-width="0.8"/>
<text x="3808.00" y="219.96" font-family="Liberation Sans" font-size="7.6" fill="#505050" text-anchor="end" font-weight="normal" >4</text>
<line x1="3814.7" y1="195.78" x2="4141.5" y2="195.78" stroke="#d9d9d9" stroke-width="0.8"/>
<text x="3808.00" y="198.52" font-family="Liberation Sans" font-size="7.6" fill="#505050" text-anchor="end" font-weight="normal" >6</text>
<line x1="3814.7" y1="174.34" x2="4141.5" y2="174.34" stroke="#d9d9d9" stroke-width="0.8"/>
<text x="3808.00" y="177.08" font-family="Liberation Sans" font-size="7.6" fill="#505050" text-anchor="end" font-weight="normal" >8</text>
<line x1="3814.7" y1="152.90" x2="4141.5" y2="152.90" stroke="#d9d9d9" stroke-width="0.8"/>
<text x="3808.00" y="155.64" font-family="Liberation Sans" font-size="7.6" fill="#505050" text-anchor="end" font-weight="normal" >10</text>
<line x1="3814.7" y1="131.46" x2="4141.5" y2="131.46" stroke="#d9d9d9" stroke-width="0.8"/>
<text x="3808.00" y="134.20" font-family="Liberation Sans" font-size="7.6" fill="#505050" text-anchor="end" font-weight="normal" >12</text>
<line x1="3814.7" y1="131.46" x2="3814.7" y2="260.10" stroke="#d9d9d9" stroke-width="0.8"/>
<line x1="3910.80" y1="163.62" x2="3910.80" y2="172.73" stroke="#3a6497" stroke-width="0.9"/>
<line x1="3910.80" y1="185.06" x2="3910.80" y2="195.78" stroke="#3a6497" stroke-width="0.9"/>
<line x1="3904.20" y1="163.62" x2="3917.40" y2="163.62" stroke="#3a6497" stroke-width="0.9"/>
<line x1="3904.20" y1="195.78" x2="3917.40" y2="195.78" stroke="#3a6497" stroke-width="0.9"/>
<rect x="3895.8" y="172.73" width="30.00" height="12.33" fill="#4f81bd" stroke="#3a6497" stroke-width="0.7"/>
<line x1="3895.8" y1="179.70" x2="3925.8" y2="179.70" stroke="#3a6497" stroke-width="0.7"/>
<path d="M3907.60,173.28 L3914.00,179.68 M3907.60,179.68 L3914.00,173.28" stroke="#3a6497" stroke-width="0.8"/>
<line x1="3944.10" y1="163.62" x2="3944.10" y2="174.34" stroke="#9b3b39" stroke-width="0.9"/>
<line x1="3944.10" y1="185.06" x2="3944.10" y2="195.78" stroke="#9b3b39" stroke-width="0.9"/>
<line x1="3937.63" y1="163.62" x2="3950.57" y2="163.62" stroke="#9b3b39" stroke-width="0.9"/>
<line x1="3937.63" y1="195.78" x2="3950.57" y2="195.78" stroke="#9b3b39" stroke-width="0.9"/>
<rect x="3929.4" y="174.34" width="29.40" height="10.72" fill="#c0504d" stroke="#9b3b39" stroke-width="0.7"/>
<line x1="3929.4" y1="179.70" x2="3958.8" y2="179.70" stroke="#9b3b39" stroke-width="0.7"/>
<path d="M3940.90,175.96 L3947.30,182.36 M3940.90,182.36 L3947.30,175.96" stroke="#9b3b39" stroke-width="0.8"/>
<line x1="3977.10" y1="159.33" x2="3977.10" y2="171.12" stroke="#7a9a3e" stroke-width="0.9"/>
<line x1="3977.10" y1="182.38" x2="3977.10" y2="192.56" stroke="#7a9a3e" stroke-width="0.9"/>
<line x1="3970.63" y1="159.33" x2="3983.57" y2="159.33" stroke="#7a9a3e" stroke-width="0.9"/>
<line x1="3970.63" y1="192.56" x2="3983.57" y2="192.56" stroke="#7a9a3e" stroke-width="0.9"/>
<rect x="3962.4" y="171.12" width="29.40" height="11.26" fill="#9bbb59" stroke="#7a9a3e" stroke-width="0.7"/>
<line x1="3962.4" y1="179.70" x2="3991.8" y2="179.70" stroke="#7a9a3e" stroke-width="0.7"/>
<path d="M3973.90,173.82 L3980.30,180.22 M3973.90,180.22 L3980.30,173.82" stroke="#7a9a3e" stroke-width="0.8"/>
<line x1="4010.25" y1="153.97" x2="4010.25" y2="158.26" stroke="#5f4a80" stroke-width="0.9"/>
<line x1="4010.25" y1="167.91" x2="4010.25" y2="181.84" stroke="#5f4a80" stroke-width="0.9"/>
<line x1="4003.58" y1="153.97" x2="4016.92" y2="153.97" stroke="#5f4a80" stroke-width="0.9"/>
<line x1="4003.58" y1="181.84" x2="4016.92" y2="181.84" stroke="#5f4a80" stroke-width="0.9"/>
<rect x="3995.1" y="158.26" width="30.30" height="9.65" fill="#8064a2" stroke="#5f4a80" stroke-width="0.7"/>
<line x1="3995.1" y1="163.62" x2="4025.4" y2="163.62" stroke="#5f4a80" stroke-width="0.7"/>
<path d="M4007.05,159.88 L4013.45,166.28 M4007.05,166.28 L4013.45,159.88" stroke="#5f4a80" stroke-width="0.8"/>
<line x1="4043.25" y1="155.04" x2="4043.25" y2="157.19" stroke="#31899f" stroke-width="0.9"/>
<line x1="4043.25" y1="166.84" x2="4043.25" y2="177.56" stroke="#31899f" stroke-width="0.9"/>
<line x1="4036.58" y1="155.04" x2="4049.92" y2="155.04" stroke="#31899f" stroke-width="0.9"/>
<line x1="4036.58" y1="177.56" x2="4049.92" y2="177.56" stroke="#31899f" stroke-width="0.9"/>
<rect x="4028.1" y="157.19" width="30.30" height="9.65" fill="#4bacc6" stroke="#31899f" stroke-width="0.7"/>
<line x1="4028.1" y1="162.55" x2="4058.4" y2="162.55" stroke="#31899f" stroke-width="0.7"/>
<path d="M4040.05,159.35 L4046.45,165.75 M4040.05,165.75 L4046.45,159.35" stroke="#31899f" stroke-width="0.8"/>
<rect x="3868.5" y="276.00" width="6.8" height="6.8" fill="#4f81bd" stroke="#3a6497" stroke-width="0.5"/>
<text x="3878.30" y="282.30" font-family="Liberation Sans" font-size="8.3" fill="#404040" text-anchor="start" font-weight="normal" textLength="31.7" lengthAdjust="spacingAndGlyphs">TA graded</text>
<rect x="3975.8" y="276.00" width="6.8" height="6.8" fill="#c0504d" stroke="#9b3b39" stroke-width="0.5"/>
<text x="3985.60" y="282.30" font-family="Liberation Sans" font-size="8.3" fill="#404040" text-anchor="start" font-weight="normal" textLength="59.6" lengthAdjust="spacingAndGlyphs">Direct Grading (10)</text>
<rect x="3868.5" y="291.30" width="6.8" height="6.8" fill="#9bbb59" stroke="#7a9a3e" stroke-width="0.5"/>
<text x="3878.30" y="297.60" font-family="Liberation Sans" font-size="8.3" fill="#404040" text-anchor="start" font-weight="normal" textLength="84.3" lengthAdjust="spacingAndGlyphs">Direct Grading (100 scaled)</text>
<rect x="3975.8" y="291.30" width="6.8" height="6.8" fill="#8064a2" stroke="#5f4a80" stroke-width="0.5"/>
<text x="3985.60" y="297.60" font-family="Liberation Sans" font-size="8.3" fill="#404040" text-anchor="start" font-weight="normal" textLength="65.7" lengthAdjust="spacingAndGlyphs">Reverse Grading (10)</text>
<rect x="3868.5" y="306.70" width="6.8" height="6.8" fill="#4bacc6" stroke="#31899f" stroke-width="0.5"/>
<text x="3878.30" y="313.00" font-family="Liberation Sans" font-size="8.3" fill="#404040" text-anchor="start" font-weight="normal" textLength="90.7" lengthAdjust="spacingAndGlyphs">Reverse Grading (100 scaled)</text>
<line x1="4147.1" y1="790.8" x2="4147.1" y2="1020" stroke="#ececec" stroke-width="1"/>
<text x="3971.10" y="803.80" font-family="Liberation Sans" font-size="11.6" fill="#555555" text-anchor="middle" font-weight="normal" textLength="310" lengthAdjust="spacingAndGlyphs" stroke="#555555" stroke-width="0.2">Score Distribution of Poor-Quality Submissions Across Grading</text>
<text x="3971.10" y="817.80" font-family="Liberation Sans" font-size="11.6" fill="#555555" text-anchor="middle" font-weight="normal" textLength="44" lengthAdjust="spacingAndGlyphs" stroke="#555555" stroke-width="0.2">Methods</text>
<line x1="3813.2" y1="956.20" x2="4141.7" y2="956.20" stroke="#d9d9d9" stroke-width="0.8"/>
<text x="3807.80" y="958.79" font-family="Liberation Sans" font-size="7.2" fill="#505050" text-anchor="end" font-weight="normal" >0</text>
<line x1="3813.2" y1="935.07" x2="4141.7" y2="935.07" stroke="#d9d9d9" stroke-width="0.8"/>
<text x="3807.80" y="937.66" font-family="Liberation Sans" font-size="7.2" fill="#505050" text-anchor="end" font-weight="normal" >5</text>
<line x1="3813.2" y1="913.93" x2="4141.7" y2="913.93" stroke="#d9d9d9" stroke-width="0.8"/>
<text x="3807.80" y="916.52" font-family="Liberation Sans" font-size="7.2" fill="#505050" text-anchor="end" font-weight="normal" >10</text>
<line x1="3813.2" y1="892.80" x2="4141.7" y2="892.80" stroke="#d9d9d9" stroke-width="0.8"/>
<text x="3807.80" y="895.39" font-family="Liberation Sans" font-size="7.2" fill="#505050" text-anchor="end" font-weight="normal" >15</text>
<line x1="3813.2" y1="871.66" x2="4141.7" y2="871.66" stroke="#d9d9d9" stroke-width="0.8"/>
<text x="3807.80" y="874.25" font-family="Liberation Sans" font-size="7.2" fill="#505050" text-anchor="end" font-weight="normal" >20</text>
<line x1="3813.2" y1="850.53" x2="4141.7" y2="850.53" stroke="#d9d9d9" stroke-width="0.8"/>
<text x="3807.80" y="853.12" font-family="Liberation Sans" font-size="7.2" fill="#505050" text-anchor="end" font-weight="normal" >25</text>
<line x1="3813.2" y1="829.39" x2="4141.7" y2="829.39" stroke="#d9d9d9" stroke-width="0.8"/>
<text x="3807.80" y="831.98" font-family="Liberation Sans" font-size="7.2" fill="#505050" text-anchor="end" font-weight="normal" >30</text>
<line x1="3813.2" y1="829.39" x2="3813.2" y2="956.20" stroke="#d9d9d9" stroke-width="0.8"/>
<line x1="3910.60" y1="939.29" x2="3910.60" y2="943.10" stroke="#3a6497" stroke-width="0.9"/>
<line x1="3910.60" y1="949.86" x2="3910.60" y2="952.18" stroke="#3a6497" stroke-width="0.9"/>
<line x1="3903.96" y1="939.29" x2="3917.24" y2="939.29" stroke="#3a6497" stroke-width="0.9"/>
<line x1="3903.96" y1="952.18" x2="3917.24" y2="952.18" stroke="#3a6497" stroke-width="0.9"/>
<rect x="3895.5" y="943.10" width="30.20" height="6.76" fill="#4f81bd" stroke="#3a6497" stroke-width="0.7"/>
<line x1="3895.5" y1="946.90" x2="3925.7" y2="946.90" stroke="#3a6497" stroke-width="0.7"/>
<path d="M3907.40,943.28 L3913.80,949.68 M3907.40,949.68 L3913.80,943.28" stroke="#3a6497" stroke-width="0.8"/>
<line x1="3943.55" y1="935.07" x2="3943.55" y2="939.71" stroke="#9b3b39" stroke-width="0.9"/>
<line x1="3943.55" y1="946.06" x2="3943.55" y2="949.01" stroke="#9b3b39" stroke-width="0.9"/>
<line x1="3936.88" y1="935.07" x2="3950.22" y2="935.07" stroke="#9b3b39" stroke-width="0.9"/>
<line x1="3936.88" y1="949.01" x2="3950.22" y2="949.01" stroke="#9b3b39" stroke-width="0.9"/>
<rect x="3928.4" y="939.71" width="30.30" height="6.34" fill="#c0504d" stroke="#9b3b39" stroke-width="0.7"/>
<line x1="3928.4" y1="942.67" x2="3958.7" y2="942.67" stroke="#9b3b39" stroke-width="0.7"/>
<path d="M3940.35,938.63 L3946.75,945.03 M3940.35,945.03 L3946.75,938.63" stroke="#9b3b39" stroke-width="0.8"/>
<line x1="3976.50" y1="929.15" x2="3976.50" y2="935.07" stroke="#7a9a3e" stroke-width="0.9"/>
<line x1="3976.50" y1="945.21" x2="3976.50" y2="947.75" stroke="#7a9a3e" stroke-width="0.9"/>
<line x1="3969.86" y1="929.15" x2="3983.14" y2="929.15" stroke="#7a9a3e" stroke-width="0.9"/>
<line x1="3969.86" y1="947.75" x2="3983.14" y2="947.75" stroke="#7a9a3e" stroke-width="0.9"/>
<rect x="3961.4" y="935.07" width="30.20" height="10.14" fill="#9bbb59" stroke="#7a9a3e" stroke-width="0.7"/>
<line x1="3961.4" y1="939.71" x2="3991.6" y2="939.71" stroke="#7a9a3e" stroke-width="0.7"/>
<path d="M3973.30,936.51 L3979.70,942.91 M3973.30,942.91 L3979.70,936.51" stroke="#7a9a3e" stroke-width="0.8"/>
<line x1="4009.65" y1="934.22" x2="4009.65" y2="934.22" stroke="#5f4a80" stroke-width="0.9"/>
<line x1="4009.65" y1="941.41" x2="4009.65" y2="943.10" stroke="#5f4a80" stroke-width="0.9"/>
<line x1="4003.12" y1="934.22" x2="4016.18" y2="934.22" stroke="#5f4a80" stroke-width="0.9"/>
<line x1="4003.12" y1="943.10" x2="4016.18" y2="943.10" stroke="#5f4a80" stroke-width="0.9"/>
<rect x="3994.8" y="934.22" width="29.70" height="7.19" fill="#8064a2" stroke="#5f4a80" stroke-width="0.7"/>
<line x1="3994.8" y1="937.18" x2="4024.5" y2="937.18" stroke="#5f4a80" stroke-width="0.7"/>
<path d="M4006.45,926.79 L4012.85,933.19 M4006.45,933.19 L4012.85,926.79" stroke="#5f4a80" stroke-width="0.8"/>
<line x1="4042.90" y1="924.07" x2="4042.90" y2="926.19" stroke="#31899f" stroke-width="0.9"/>
<line x1="4042.90" y1="936.33" x2="4042.90" y2="938.02" stroke="#31899f" stroke-width="0.9"/>
<line x1="4036.26" y1="924.07" x2="4049.54" y2="924.07" stroke="#31899f" stroke-width="0.9"/>
<line x1="4036.26" y1="938.02" x2="4049.54" y2="938.02" stroke="#31899f" stroke-width="0.9"/>
<rect x="4027.8" y="926.19" width="30.20" height="10.14" fill="#4bacc6" stroke="#31899f" stroke-width="0.7"/>
<line x1="4027.8" y1="931.68" x2="4058.0" y2="931.68" stroke="#31899f" stroke-width="0.7"/>
<path d="M4039.70,928.48 L4046.10,934.88 M4039.70,934.88 L4046.10,928.48" stroke="#31899f" stroke-width="0.8"/>
<rect x="3866.0" y="972.00" width="6.5" height="6.5" fill="#4f81bd" stroke="#3a6497" stroke-width="0.5"/>
<text x="3875.50" y="978.00" font-family="Liberation Sans" font-size="8.0" fill="#404040" text-anchor="start" font-weight="normal" textLength="33" lengthAdjust="spacingAndGlyphs">TA Graded</text>
<rect x="3977.9" y="972.00" width="6.5" height="6.5" fill="#c0504d" stroke="#9b3b39" stroke-width="0.5"/>
<text x="3987.40" y="978.00" font-family="Liberation Sans" font-size="8.0" fill="#404040" text-anchor="start" font-weight="normal" textLength="60" lengthAdjust="spacingAndGlyphs">Direct Grading (10)</text>
<rect x="3866.0" y="988.20" width="6.5" height="6.5" fill="#9bbb59" stroke="#7a9a3e" stroke-width="0.5"/>
<text x="3875.50" y="994.20" font-family="Liberation Sans" font-size="8.0" fill="#404040" text-anchor="start" font-weight="normal" textLength="85" lengthAdjust="spacingAndGlyphs">Direct Grading (100 scaled)</text>
<rect x="3977.9" y="988.20" width="6.5" height="6.5" fill="#8064a2" stroke="#5f4a80" stroke-width="0.5"/>
<text x="3987.40" y="994.20" font-family="Liberation Sans" font-size="8.0" fill="#404040" text-anchor="start" font-weight="normal" textLength="66.5" lengthAdjust="spacingAndGlyphs">Reverse Grading (10)</text>
<rect x="3866.0" y="1004.40" width="6.5" height="6.5" fill="#4bacc6" stroke="#31899f" stroke-width="0.5"/>
<text x="3875.50" y="1010.40" font-family="Liberation Sans" font-size="8.0" fill="#404040" text-anchor="start" font-weight="normal" textLength="91.5" lengthAdjust="spacingAndGlyphs">Reverse Grading (100 scaled)</text>
<text x="4370.90" y="94.80" font-family="Liberation Sans" font-size="16.0" fill="#555555" text-anchor="middle" font-weight="normal" textLength="247" lengthAdjust="spacingAndGlyphs" stroke="#555555" stroke-width="0.25">Overall Score Distribution Across All</text>
<text x="4369.70" y="115.30" font-family="Liberation Sans" font-size="16.0" fill="#555555" text-anchor="middle" font-weight="normal" textLength="239.4" lengthAdjust="spacingAndGlyphs" stroke="#555555" stroke-width="0.25">Submissions and Grading Methods</text>
<line x1="4217.0" y1="242.30" x2="4540.9" y2="242.30" stroke="#d9d9d9" stroke-width="0.8"/>
<text x="4209.10" y="245.97" font-family="Liberation Sans" font-size="10.2" fill="#505050" text-anchor="end" font-weight="normal" >0</text>
<line x1="4217.0" y1="227.24" x2="4540.9" y2="227.24" stroke="#d9d9d9" stroke-width="0.8"/>
<text x="4209.10" y="230.91" font-family="Liberation Sans" font-size="10.2" fill="#505050" text-anchor="end" font-weight="normal" >5</text>
<line x1="4217.0" y1="212.17" x2="4540.9" y2="212.17" stroke="#d9d9d9" stroke-width="0.8"/>
<text x="4209.10" y="215.84" font-family="Liberation Sans" font-size="10.2" fill="#505050" text-anchor="end" font-weight="normal" >10</text>
<line x1="4217.0" y1="197.11" x2="4540.9" y2="197.11" stroke="#d9d9d9" stroke-width="0.8"/>
<text x="4209.10" y="200.78" font-family="Liberation Sans" font-size="10.2" fill="#505050" text-anchor="end" font-weight="normal" >15</text>
<line x1="4217.0" y1="182.04" x2="4540.9" y2="182.04" stroke="#d9d9d9" stroke-width="0.8"/>
<text x="4209.10" y="185.71" font-family="Liberation Sans" font-size="10.2" fill="#505050" text-anchor="end" font-weight="normal" >20</text>
<line x1="4217.0" y1="166.98" x2="4540.9" y2="166.98" stroke="#d9d9d9" stroke-width="0.8"/>
<text x="4209.10" y="170.65" font-family="Liberation Sans" font-size="10.2" fill="#505050" text-anchor="end" font-weight="normal" >25</text>
<line x1="4217.0" y1="151.91" x2="4540.9" y2="151.91" stroke="#d9d9d9" stroke-width="0.8"/>
<text x="4209.10" y="155.58" font-family="Liberation Sans" font-size="10.2" fill="#505050" text-anchor="end" font-weight="normal" >30</text>
<line x1="4217.0" y1="151.91" x2="4217.0" y2="242.30" stroke="#d9d9d9" stroke-width="0.8"/>
<line x1="4312.85" y1="215.18" x2="4312.85" y2="220.91" stroke="#3a6497" stroke-width="0.9"/>
<line x1="4312.85" y1="233.26" x2="4312.85" y2="242.30" stroke="#3a6497" stroke-width="0.9"/>
<line x1="4306.32" y1="215.18" x2="4319.38" y2="215.18" stroke="#3a6497" stroke-width="0.9"/>
<rect x="4298.0" y="220.91" width="29.70" height="12.35" fill="#4f81bd" stroke="#3a6497" stroke-width="0.7"/>
<line x1="4298.0" y1="225.73" x2="4327.7" y2="225.73" stroke="#3a6497" stroke-width="0.7"/>
<path d="M4309.65,223.43 L4316.05,229.83 M4309.65,229.83 L4316.05,223.43" stroke="#3a6497" stroke-width="0.8"/>
<line x1="4345.55" y1="215.18" x2="4345.55" y2="220.91" stroke="#9b3b39" stroke-width="0.9"/>
<line x1="4345.55" y1="231.15" x2="4345.55" y2="242.30" stroke="#9b3b39" stroke-width="0.9"/>
<line x1="4338.97" y1="215.18" x2="4352.13" y2="215.18" stroke="#9b3b39" stroke-width="0.9"/>
<rect x="4330.6" y="220.91" width="29.90" height="10.24" fill="#c0504d" stroke="#9b3b39" stroke-width="0.7"/>
<line x1="4330.6" y1="224.82" x2="4360.5" y2="224.82" stroke="#9b3b39" stroke-width="0.7"/>
<path d="M4342.35,222.23 L4348.75,228.63 M4342.35,228.63 L4348.75,222.23" stroke="#9b3b39" stroke-width="0.8"/>
<line x1="4378.40" y1="213.98" x2="4378.40" y2="219.10" stroke="#7a9a3e" stroke-width="0.9"/>
<line x1="4378.40" y1="227.54" x2="4378.40" y2="236.27" stroke="#7a9a3e" stroke-width="0.9"/>
<line x1="4371.71" y1="213.98" x2="4385.09" y2="213.98" stroke="#7a9a3e" stroke-width="0.9"/>
<line x1="4371.71" y1="236.27" x2="4385.09" y2="236.27" stroke="#7a9a3e" stroke-width="0.9"/>
<rect x="4363.2" y="219.10" width="30.40" height="8.44" fill="#9bbb59" stroke="#7a9a3e" stroke-width="0.7"/>
<line x1="4363.2" y1="224.52" x2="4393.6" y2="224.52" stroke="#7a9a3e" stroke-width="0.7"/>
<path d="M4375.20,221.32 L4381.60,227.72 M4375.20,227.72 L4381.60,221.32" stroke="#7a9a3e" stroke-width="0.8"/>
<circle cx="4378.40" cy="242.30" r="1.8" fill="none" stroke="#9bbb59" stroke-width="1.2"/>
<line x1="4411.25" y1="212.17" x2="4411.25" y2="215.79" stroke="#5f4a80" stroke-width="0.9"/>
<line x1="4411.25" y1="227.54" x2="4411.25" y2="242.30" stroke="#5f4a80" stroke-width="0.9"/>
<line x1="4404.67" y1="212.17" x2="4417.83" y2="212.17" stroke="#5f4a80" stroke-width="0.9"/>
<rect x="4396.3" y="215.79" width="29.90" height="11.75" fill="#8064a2" stroke="#5f4a80" stroke-width="0.7"/>
<line x1="4396.3" y1="222.11" x2="4426.2" y2="222.11" stroke="#5f4a80" stroke-width="0.7"/>
<path d="M4408.05,217.71 L4414.45,224.11 M4408.05,224.11 L4414.45,217.71" stroke="#5f4a80" stroke-width="0.8"/>
<line x1="4443.85" y1="212.17" x2="4443.85" y2="216.09" stroke="#31899f" stroke-width="0.9"/>
<line x1="4443.85" y1="223.62" x2="4443.85" y2="229.65" stroke="#31899f" stroke-width="0.9"/>
<line x1="4437.27" y1="212.17" x2="4450.43" y2="212.17" stroke="#31899f" stroke-width="0.9"/>
<line x1="4437.27" y1="229.65" x2="4450.43" y2="229.65" stroke="#31899f" stroke-width="0.9"/>
<rect x="4428.9" y="216.09" width="29.90" height="7.53" fill="#4bacc6" stroke="#31899f" stroke-width="0.7"/>
<line x1="4428.9" y1="219.70" x2="4458.8" y2="219.70" stroke="#31899f" stroke-width="0.7"/>
<path d="M4440.65,216.50 L4447.05,222.90 M4440.65,222.90 L4447.05,216.50" stroke="#31899f" stroke-width="0.8"/>
<circle cx="4443.85" cy="242.30" r="1.8" fill="none" stroke="#4bacc6" stroke-width="1.2"/>
<text x="4378.90" y="260.80" font-family="Liberation Sans" font-size="10.8" fill="#404040" text-anchor="middle" font-weight="normal" >1</text>
<rect x="4223.7" y="278.40" width="9.6" height="9.6" fill="#4f81bd" stroke="#3a6497" stroke-width="0.5"/>
<text x="4236.30" y="287.50" font-family="Liberation Sans" font-size="11.0" fill="#404040" text-anchor="start" font-weight="normal" textLength="43.9" lengthAdjust="spacingAndGlyphs">TA graded</text>
<rect x="4376.7" y="278.40" width="9.6" height="9.6" fill="#c0504d" stroke="#9b3b39" stroke-width="0.5"/>
<text x="4389.30" y="287.50" font-family="Liberation Sans" font-size="11.0" fill="#404040" text-anchor="start" font-weight="normal" textLength="83.7" lengthAdjust="spacingAndGlyphs">Direct Grading (10)</text>
<rect x="4223.7" y="299.90" width="9.6" height="9.6" fill="#9bbb59" stroke="#7a9a3e" stroke-width="0.5"/>
<text x="4236.30" y="309.00" font-family="Liberation Sans" font-size="11.0" fill="#404040" text-anchor="start" font-weight="normal" textLength="119.9" lengthAdjust="spacingAndGlyphs">Direct Grading (100 Scaled)</text>
<rect x="4376.7" y="299.90" width="9.6" height="9.6" fill="#8064a2" stroke="#5f4a80" stroke-width="0.5"/>
<text x="4389.30" y="309.00" font-family="Liberation Sans" font-size="11.0" fill="#404040" text-anchor="start" font-weight="normal" textLength="91.8" lengthAdjust="spacingAndGlyphs">Reverse Grading (10)</text>
<rect x="4223.7" y="321.40" width="9.6" height="9.6" fill="#4bacc6" stroke="#31899f" stroke-width="0.5"/>
<text x="4236.30" y="330.50" font-family="Liberation Sans" font-size="11.0" fill="#404040" text-anchor="start" font-weight="normal" textLength="128.5" lengthAdjust="spacingAndGlyphs">Reverse Grading (100 Scaled)</text>
<rect x="4395.8" y="265.5" width="54" height="13.5" rx="1.5" fill="#4a4a4a"/>
<text x="4422.80" y="275.50" font-family="Liberation Sans" font-size="8.2" fill="#ffffff" text-anchor="middle" font-weight="normal" >Print Layout</text>
</svg>
</body></html>
